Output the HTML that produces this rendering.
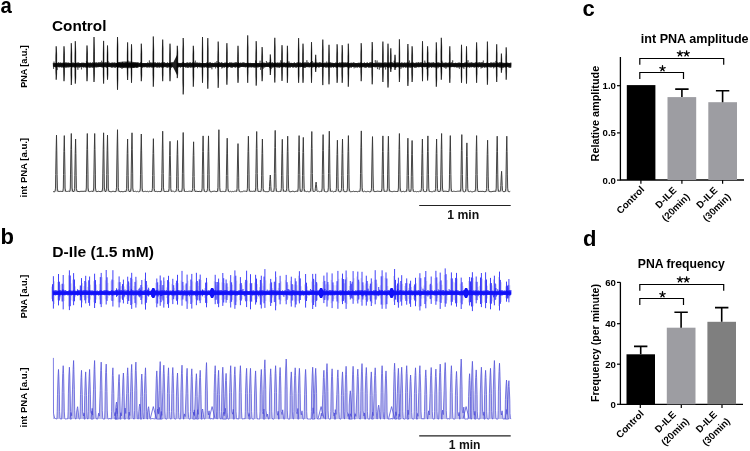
<!DOCTYPE html>
<html><head><meta charset="utf-8"><style>
html,body{margin:0;padding:0;background:#fff;}
body{width:750px;height:451px;overflow:hidden;font-family:"Liberation Sans",sans-serif;}
svg{display:block;will-change:transform;}
</style></head><body>
<svg width="750" height="451" viewBox="0 0 750 451">
<rect x="53.1" y="63.2" width="458.1" height="3.6" fill="#000"/>
<path d="M53.1 62.9 53.6 68.9 54 61.6 54.5 66.7 54.9 63.2 55.4 67.3 55.8 63.1 56.3 67.5 56.7 62.5 57.2 70.1 57.6 62.9 58.1 66.9 58.5 62.2 59 67.5 59.4 62.8 59.9 67.3 60.3 62.4 60.8 67.1 61.2 62.7 61.7 67.7 62.1 63 62.6 67.4 63 62.4 63.5 68 63.9 62.8 64.4 66.9 64.8 63.2 65.3 67.7 65.7 62.2 66.2 67.6 66.6 62.5 67.1 67.8 67.5 62.7 68 66.8 68.4 62.5 68.9 67.8 69.3 62.8 69.8 66.7 70.2 63.1 70.7 66.8 71.1 63.1 71.6 67.2 72 63.2 72.5 67.4 72.9 62.2 73.4 67.1 73.8 62.8 74.3 67.9 74.7 63.1 75.2 67 75.6 62.5 76.1 66.7 76.5 62.8 77 67.9 77.4 62.6 77.9 69.8 78.3 62.3 78.8 67.7 79.2 62.8 79.7 67.7 80.1 63 80.6 67.1 81 63.1 81.5 69.4 81.9 62.5 82.4 67 82.8 62.8 83.3 67.8 83.7 62.7 84.2 66.8 84.6 62.9 85.1 67.8 85.5 63.3 86 67.4 86.4 61.3 86.9 68 87.3 62.4 87.8 67.2 88.2 62.3 88.7 67.7 89.1 63 89.6 68 90 62.3 90.5 67.7 90.9 62.6 91.4 67.4 91.8 63 92.3 67.9 92.7 62.1 93.2 67.9 93.6 63 94.1 67 94.5 62.5 95 67.8 95.4 62.5 95.9 66.8 96.3 62.1 96.8 67.7 97.2 63.1 97.7 67.1 98.1 62 98.6 67.2 99 62.4 99.5 66.9 99.9 62.1 100.4 66.9 100.8 62 101.3 67.2 101.7 60.7 102.2 67.5 102.6 62.1 103.1 67.8 103.5 63 104 67.1 104.4 62.5 104.9 67.2 105.3 62.1 105.8 67.3 106.2 62.1 106.7 67.9 107.1 62.6 107.6 66.7 108 61.1 108.5 66.9 108.9 62.4 109.4 67.1 109.8 62.6 110.3 66.8 110.7 63 111.2 67.7 111.6 62.6 112.1 67.9 112.5 62.5 113 67.4 113.4 62.7 113.9 67.3 114.3 62.4 114.8 67.9 115.2 62.6 115.7 67.8 116.1 63.1 116.6 66.8 117 63.2 117.5 67.7 117.9 63.1 118.4 67.6 118.8 62.2 119.3 67 119.7 62.8 120.2 68 120.6 63.1 121.1 67.4 121.5 63 122 69 122.4 61.9 122.9 67.5 123.3 63.2 123.8 67.7 124.2 63.2 124.7 66.8 125.1 62.9 125.6 67.2 126 62.2 126.5 66.9 126.9 62.6 127.4 68.5 127.8 60.4 128.3 67.5 128.7 63.2 129.2 66.8 129.6 62.7 130.1 67.4 130.5 63 131 67.4 131.4 63.2 131.9 66.8 132.3 62.9 132.8 67.7 133.2 62.6 133.7 67.8 134.1 63.3 134.6 67.4 135 62.7 135.5 66.8 135.9 62.7 136.4 67.8 136.8 62.6 137.3 68 137.7 62.2 138.2 67.5 138.6 62.5 139.1 66.8 139.5 63 140 66.8 140.4 62.2 140.9 67.1 141.3 62.9 141.8 66.9 142.2 63 142.7 68 143.1 63 143.6 67.1 144 63.3 144.5 67.3 144.9 63 145.4 66.7 145.8 63.2 146.2 67.5 146.7 63 147.1 67.4 147.6 62.4 148 67.8 148.5 62.9 148.9 66.9 149.4 60.4 149.8 67.9 150.3 62.3 150.7 66.9 151.2 62.6 151.6 67.7 152.1 62.5 152.5 67.6 153 62.7 153.4 67.2 153.9 62.2 154.3 67.5 154.8 62.4 155.2 66.7 155.7 62.3 156.1 67.4 156.6 63.2 157 67.7 157.5 62.4 157.9 67.7 158.4 62.7 158.8 67.3 159.3 62.3 159.7 67.9 160.2 63 160.6 67.1 161.1 62.6 161.5 67.6 162 62.4 162.4 67.4 162.9 62.7 163.3 67.9 163.8 62 164.2 66.7 164.7 62.2 165.1 67.3 165.6 63 166 67 166.5 63.1 166.9 67.9 167.4 62.2 167.8 67.9 168.3 63 168.7 67.3 169.2 62.7 169.6 67.1 170.1 62.9 170.5 69.7 171 62.2 171.4 67.9 171.9 62.1 172.3 67.2 172.8 62 173.2 67.2 173.7 62.7 174.1 67.8 174.6 62.1 175 67 175.5 63.1 175.9 67.9 176.4 62.2 176.8 67.9 177.3 62.6 177.7 66.8 178.2 62.7 178.6 67.5 179.1 63.2 179.5 66.9 180 62.9 180.4 67.7 180.9 63 181.3 67.1 181.8 62.8 182.2 66.9 182.7 62.1 183.1 67 183.6 62 184 66.9 184.5 63.2 184.9 66.8 185.4 63 185.8 67.9 186.3 62.8 186.7 67.4 187.2 62.2 187.6 68 188.1 62.6 188.5 67.8 189 62.9 189.4 67.2 189.9 62.1 190.3 67.9 190.8 62.4 191.2 67.3 191.7 63.3 192.1 67.9 192.6 62.2 193 67 193.5 63.1 193.9 67.6 194.4 62.4 194.8 67.7 195.3 60.6 195.7 67 196.2 62.5 196.6 66.9 197.1 62.5 197.5 68.2 198 62.5 198.4 67 198.9 63.3 199.3 67.3 199.8 62.5 200.2 67.3 200.7 63 201.1 67.6 201.6 63.3 202 67.6 202.5 63 202.9 67.9 203.4 63.3 203.8 67.2 204.3 63 204.7 67.7 205.2 63 205.6 67.1 206.1 63 206.5 67.7 207 62.1 207.4 66.9 207.9 62.8 208.3 67.9 208.8 62.8 209.2 68 209.7 62.2 210.1 67.9 210.6 62.3 211 67.9 211.5 63.1 211.9 69.3 212.4 62.8 212.8 67.1 213.3 63.3 213.7 67.2 214.2 63.1 214.6 67 215.1 62.2 215.5 68.4 216 62.8 216.4 67 216.9 61.1 217.3 67.8 217.8 63.1 218.2 67.9 218.7 62.3 219.1 67.1 219.6 62.1 220 67 220.5 62.9 220.9 66.7 221.4 62.1 221.8 68.5 222.3 62.7 222.7 67.9 223.2 63 223.6 67.3 224.1 63.1 224.5 67.7 225 62.3 225.4 67.1 225.9 62.8 226.3 66.8 226.8 62.3 227.2 68.2 227.7 62.9 228.1 67.8 228.6 63 229 66.8 229.5 62.4 229.9 67 230.4 62.5 230.8 67.7 231.3 62.4 231.7 67.8 232.2 62.6 232.6 67.7 233.1 63 233.5 66.9 234 62.5 234.4 67.2 234.9 62.6 235.3 67.8 235.8 62 236.2 67.3 236.7 62.2 237.1 66.8 237.6 63.1 238 68 238.5 62.1 238.9 67.8 239.4 63 239.8 67.9 240.3 62.5 240.7 67 241.2 63.1 241.6 67 242.1 62.5 242.5 66.7 243 62.4 243.4 67.1 243.9 62.3 244.3 66.8 244.8 62.8 245.2 67.5 245.7 63.1 246.1 67.2 246.6 62.9 247 67.1 247.5 62.8 247.9 67.8 248.4 62.8 248.8 67.6 249.3 63.3 249.7 67.3 250.2 62.8 250.6 67.3 251.1 63.3 251.5 67.5 252 63.2 252.4 67.2 252.9 63.1 253.3 67.4 253.8 63.2 254.2 67.7 254.7 63 255.1 67.9 255.6 60.4 256 67.2 256.5 62.5 256.9 66.9 257.4 63 257.8 67.8 258.3 63.1 258.7 67.2 259.2 62.8 259.6 67 260.1 60.7 260.5 69.8 261 63.1 261.4 67.4 261.9 62.9 262.3 67.5 262.8 62.4 263.2 68.8 263.7 62.7 264.1 67.7 264.6 62.7 265 67.3 265.5 63.1 265.9 66.8 266.4 61 266.8 66.8 267.3 62.3 267.7 66.8 268.2 62.8 268.6 66.9 269.1 62 269.5 67.8 270 62 270.4 67.9 270.9 63.1 271.3 68.8 271.8 62.3 272.2 67.9 272.7 62.2 273.1 67.4 273.6 63 274 67.4 274.5 63.3 274.9 66.9 275.4 62.4 275.8 66.9 276.3 63.2 276.7 67.5 277.2 62.2 277.6 67.5 278.1 63.2 278.5 67.5 279 62.3 279.4 68 279.9 62.8 280.3 67.3 280.8 60.3 281.2 67 281.7 62 282.1 67.6 282.6 62.9 283 67.5 283.5 62.6 283.9 66.9 284.4 62.4 284.8 67.2 285.3 62.8 285.7 67.5 286.2 63 286.6 67.3 287.1 62.1 287.5 66.9 288 62.5 288.4 67.7 288.9 61.3 289.3 67.4 289.8 62.5 290.2 67.9 290.7 63 291.1 66.8 291.6 62.8 292 66.8 292.5 63.3 292.9 67.9 293.4 63 293.8 67.4 294.3 62.2 294.7 67.1 295.2 63.2 295.6 67.7 296.1 63.3 296.5 67.7 297 62.3 297.4 67 297.9 62.2 298.3 67.7 298.8 62.2 299.2 67 299.7 62.7 300.1 67.4 300.6 62.5 301 67 301.5 63.3 301.9 67 302.4 62.1 302.8 67.1 303.3 62.9 303.7 67.9 304.2 62.4 304.6 68 305.1 62.2 305.5 67.8 306 62.4 306.4 67.1 306.9 60.2 307.3 67.2 307.8 62.1 308.2 67 308.7 62.4 309.1 67.6 309.6 63.2 310 67.2 310.5 62.2 310.9 66.8 311.4 62.1 311.8 66.8 312.3 61 312.7 67.8 313.2 62.2 313.6 67.1 314.1 63.2 314.5 67 315 62.1 315.4 67.1 315.9 62.8 316.3 68 316.8 62.2 317.2 66.7 317.7 62.7 318.1 67.2 318.6 62.6 319 67.8 319.5 62.2 319.9 66.7 320.4 62.3 320.8 66.7 321.3 62.7 321.7 66.9 322.2 62.8 322.6 67 323.1 62.9 323.5 67.6 324 63.2 324.4 66.8 324.9 62.4 325.3 67.5 325.8 62.8 326.2 67.9 326.7 61.6 327.1 67 327.6 62.6 328 67.8 328.5 62.7 328.9 67.7 329.4 62.5 329.8 67.1 330.3 62.2 330.7 67.7 331.2 62.7 331.6 67.5 332.1 62.7 332.5 67 333 62.9 333.4 67.8 333.9 63.1 334.3 67.1 334.8 63.1 335.2 66.9 335.7 62.4 336.1 68 336.6 62.8 337 67.7 337.5 62.7 337.9 67.5 338.4 63 338.8 66.7 339.3 62.3 339.7 67.4 340.2 62.7 340.6 67.5 341.1 62.3 341.5 67.3 342 62.3 342.4 67 342.9 62.2 343.3 67.6 343.8 62.4 344.2 67.3 344.7 62.5 345.1 67.2 345.6 62.4 346 67 346.5 62.7 346.9 67.2 347.4 62.1 347.8 67.6 348.3 62.8 348.7 69.3 349.2 63.1 349.6 67.9 350.1 63.2 350.5 67.4 351 62.6 351.4 67.8 351.9 62.8 352.3 67 352.8 62.8 353.2 66.9 353.7 62.2 354.1 68.3 354.6 62.8 355 67.2 355.5 63 355.9 67.9 356.4 63 356.8 67.2 357.3 63.1 357.7 67.8 358.2 62.7 358.6 67 359.1 62.8 359.5 67.8 360 62.7 360.4 67.4 360.9 62.2 361.3 67.8 361.8 62.8 362.2 67.3 362.7 63.3 363.1 67.1 363.6 62.9 364 67.3 364.5 62.4 364.9 67.9 365.4 63.2 365.8 67.9 366.3 63.1 366.7 67.6 367.2 62.1 367.6 67 368.1 63.1 368.5 67.7 369 63.1 369.4 67.7 369.9 62.1 370.3 67.7 370.8 62.1 371.2 67.8 371.7 62.4 372.1 67.7 372.6 62.2 373 67 373.5 63.1 373.9 66.8 374.4 63.1 374.8 67.3 375.3 60.1 375.7 67.3 376.2 62.4 376.6 67.2 377.1 60.5 377.5 69.1 378 62.4 378.4 67.1 378.9 62.6 379.3 69.7 379.8 62.5 380.2 67.8 380.7 62.7 381.1 67.7 381.6 62.7 382 67.4 382.5 62.9 382.9 67.2 383.4 62.9 383.8 68 384.3 62.3 384.7 67.1 385.2 62.5 385.6 69.5 386.1 62.1 386.5 66.8 387 63.3 387.4 67.9 387.9 62.4 388.3 67.9 388.8 62.5 389.2 67.6 389.7 62.4 390.1 67.6 390.6 62.3 391 68.9 391.5 62.1 391.9 67.2 392.4 62.3 392.8 67 393.3 62.8 393.7 67.3 394.2 60.7 394.6 66.8 395.1 62.2 395.5 67.9 396 63.3 396.4 67.5 396.9 62 397.3 67.2 397.8 62.5 398.2 66.9 398.7 62.4 399.1 68 399.6 62.2 400 66.7 400.5 63 400.9 68.9 401.4 62.4 401.8 67.6 402.3 62.5 402.7 67.3 403.2 63 403.6 67.7 404.1 62.5 404.5 66.8 405 62.4 405.4 67.8 405.9 63.2 406.3 67.4 406.8 62.4 407.2 67.7 407.7 62.5 408.1 67.2 408.6 62.3 409 67.7 409.5 60.5 409.9 67.6 410.4 62.9 410.8 68 411.3 62.5 411.7 67.3 412.2 62.8 412.6 67.5 413.1 62.3 413.5 66.7 414 62.8 414.4 67.8 414.9 63.2 415.3 67.8 415.8 62.6 416.2 67.8 416.7 62.4 417.1 67.2 417.6 62.6 418 67 418.5 62.1 418.9 67.5 419.4 62.7 419.8 67 420.3 62.3 420.7 66.8 421.2 62.3 421.6 67.5 422.1 62.1 422.5 67.3 423 63.1 423.4 66.9 423.9 62.8 424.3 67.2 424.8 60.6 425.2 67.2 425.7 62.5 426.1 66.9 426.6 62.9 427 69.2 427.5 62.2 427.9 67.4 428.4 62.3 428.8 67.9 429.3 62.2 429.7 67.5 430.2 63.1 430.6 66.8 431.1 62.2 431.5 67.9 432 63.2 432.4 67.2 432.9 62.1 433.3 67.4 433.8 62.1 434.2 67.2 434.7 63.1 435.1 68 435.6 63.2 436 67.2 436.5 62.1 436.9 66.8 437.4 62.4 437.8 68.3 438.3 62.3 438.7 67.6 439.2 62.5 439.6 66.8 440.1 63 440.5 67.3 441 63 441.4 69.4 441.9 60.7 442.3 67 442.8 62.2 443.2 66.9 443.7 63.2 444.1 67.8 444.6 62.7 445 67.8 445.5 62.5 445.9 68.8 446.4 62.6 446.8 67.8 447.3 62.8 447.7 67.1 448.2 62.9 448.6 67.3 449.1 62.1 449.5 70.2 450 62.4 450.4 67.3 450.9 63 451.3 67.2 451.8 62 452.2 66.8 452.7 60.3 453.1 67.1 453.6 63.3 454 67.1 454.5 63.3 454.9 67.4 455.4 62.7 455.8 67 456.3 63.1 456.7 67.7 457.2 62.8 457.6 67.5 458.1 62.9 458.5 67.5 459 62.2 459.4 68.8 459.9 62.8 460.3 66.8 460.8 62.9 461.2 67.8 461.7 63.3 462.1 67.3 462.6 63 463 67.8 463.5 63.1 463.9 68.8 464.4 62.7 464.8 66.9 465.3 62.2 465.7 67.1 466.2 62.8 466.6 66.8 467.1 62.1 467.5 67.4 468 60.2 468.4 67 468.9 63.2 469.3 68 469.8 62.4 470.2 66.7 470.7 62.6 471.1 67.6 471.6 62.2 472 66.8 472.5 62.7 472.9 67.1 473.4 62.8 473.8 67.5 474.3 63.1 474.7 67.7 475.2 62.2 475.6 67.2 476.1 62.2 476.5 67.2 477 62.3 477.4 67 477.9 62.7 478.3 67.7 478.8 62.2 479.2 66.8 479.7 62.1 480.1 67 480.6 62.5 481 68.5 481.5 62.3 481.9 68 482.4 62.1 482.8 67.8 483.3 60.5 483.7 67 484.2 62.9 484.6 67.9 485.1 63 485.5 67.3 486 62.9 486.4 67.5 486.9 62.5 487.3 67.4 487.8 62.7 488.2 66.9 488.7 63.1 489.1 67.2 489.6 63 490 67.4 490.5 62.5 490.9 67.5 491.4 62.4 491.8 67.4 492.3 62.7 492.7 67 493.2 62.6 493.6 68.3 494.1 62.2 494.5 67.4 495 62.9 495.4 67.1 495.9 60.9 496.3 68.2 496.8 62.7 497.2 66.8 497.7 62.1 498.1 66.9 498.6 62.8 499 67.5 499.5 62.2 499.9 67.7 500.4 62.3 500.8 67.7 501.3 62.1 501.7 69.7 502.2 62.5 502.6 68 503.1 62.8 503.5 67.8 504 62.8 504.4 67.3 504.9 62.9 505.3 67.4 505.8 62.9 506.2 67.8 506.7 62.7 507.1 67.1 507.6 62.6 508 66.8 508.5 62.9 508.9 67.8 509.4 63 509.8 68 510.3 62.6 510.7 67.9 511.2 62.6" fill="none" stroke="#111" stroke-width="0.5"/>
<path d="M116 63L119 62L124 61.4L130 61.6L136 62.2L138 63V67L136 67.8L130 68.2L124 68L119 67.6L116 67Z" fill="#000" opacity="0.7"/>
<path d="M172.5 64L177 55V75L172.5 66Z" fill="#222"/>
<path d="M56.2 46.3V79.7M56.2 46.3L56.7 54.2V73.5L56.2 79.7L55.8 71.8V56.3ZM64 46.3V81.2M64 46.3L64.5 53.4V73.9L64 81.2L63.6 72.1V55.7ZM71.3 43.2V85M71.3 43.2L71.8 53.2V77L71.3 85L70.9 74.6V55.6ZM75.3 41.2V83.6M75.3 41.2L75.8 52.2V77.8L75.3 83.6L74.9 75.2V54.8ZM87 45.5V81.2M87 45.5L87.5 52.9V74.4L87 81.2L86.6 72.5V55.3ZM94 37V82M94 37L94.5 51.7V74.2L94 82L93.6 72.4V54.4ZM103.6 40.9V83.6M103.6 40.9L104 51.7V76L103.6 83.6L103.2 73.8V54.4ZM107.5 45.5V79.7M107.5 45.5L108 53.4V74.8L107.5 79.7L107.1 72.9V55.7ZM117.5 37V89.8M117.5 37L118 45.6V79.2L117.5 89.8L117.1 76.3V49.5ZM127.6 42.4V80M127.6 42.4L128 52.3V74.1L127.6 80L127.2 72.3V54.9ZM131.5 44.3V82.8M131.5 44.3L131.9 50.5V74.5L131.5 82.8L131.1 72.6V53.4ZM141.3 43.7V81.2M141.3 43.7L141.8 52.6V75.6L141.3 81.2L140.9 73.5V55.1ZM153.3 36.5V86.7M153.3 36.5L153.8 51V76.5L153.3 86.7L152.9 74.2V53.8ZM162.7 39.6V81.2M162.7 39.6L163.1 47.4V75.6L162.7 81.2L162.3 73.5V50.9ZM170 43.7V81.2M170 43.7L170.4 52.7V72.7L170 81.2L169.6 71.2V55.1ZM177.3 45.8V78.1M177.3 45.8L177.8 52.1V73.2L177.3 78.1L176.9 71.5V54.7ZM183.2 38V94.4M183.2 38L183.6 47.3V85.5L183.2 94.4L182.8 81.4V50.8ZM193.3 45.8V86.7M193.3 45.8L193.8 52.1V77L193.3 86.7L192.9 74.6V54.7ZM202.5 37V82.8M202.5 37L202.9 51.3V74.3L202.5 82.8L202.1 72.4V54ZM207.8 38.1V88.7M207.8 38.1L208.2 49.5V78.7L207.8 88.7L207.4 75.9V52.6ZM218.2 41.6V87.8M218.2 41.6L218.6 53.4V76.3L218.2 87.8L217.8 74V55.7ZM226.9 43.2V84.7M226.9 43.2L227.3 51.8V76.8L226.9 84.7L226.5 74.5V54.4ZM238 45.8V82.8M238 45.8L238.4 54.7V77.4L238 82.8L237.6 74.9V56.7ZM247.7 35.4V82.8M247.7 35.4L248.1 47V73.2L247.7 82.8L247.3 71.6V50.6ZM256.2 41.2V85.6M256.2 41.2L256.6 51.8V78.3L256.2 85.6L255.8 75.7V54.5ZM262.1 47.1V81.2M262.1 47.1L262.6 55.6V75.1L262.1 81.2L261.7 73.1V57.5ZM270.3 54.5V75M270.3 54.5L270.8 60.3V70.3L270.3 75L269.9 69.2V61.2ZM274.8 37.8V82.5M274.8 37.8L275.2 47V75.4L274.8 82.5L274.4 73.4V50.6ZM282 45.2V80.9M282 45.2L282.4 52.8V72.9L282 80.9L281.6 71.3V55.2ZM287.4 45.8V82.8M287.4 45.8L287.8 54V75.5L287.4 82.8L287 73.4V56.2ZM298.6 38.1V82.8M298.6 38.1L299.1 51.1V75.9L298.6 82.8L298.2 73.7V53.9ZM303 43.7V82.8M303 43.7L303.4 52.6V77.4L303 82.8L302.6 75V55.1ZM311.5 42.1V82.8M311.5 42.1L311.9 51.4V74.8L311.5 82.8L311.1 72.9V54.1ZM315.7 54.8V71.9M315.7 54.8L316.1 60.1V68.4L315.7 71.9L315.3 67.7V61.1ZM322.8 39.6V85.1M322.8 39.6L323.2 48.7V74.6L322.8 85.1L322.4 72.7V52ZM329 44.8V84.3M329 44.8L329.4 55.4V74.5L329 84.3L328.6 72.6V57.3ZM337.1 44.3V82.8M337.1 44.3L337.6 53V76.7L337.1 82.8L336.7 74.3V55.4ZM342.2 45.2V82.8M342.2 45.2L342.6 53.1V76.6L342.2 82.8L341.8 74.3V55.4ZM348.3 43.7V86.7M348.3 43.7L348.8 55.1V74.8L348.3 86.7L347.9 72.9V57.1ZM361.2 43.2V81.2M361.2 43.2L361.6 51V73.6L361.2 81.2L360.8 71.9V53.8ZM372.2 42.1V84.3M372.2 42.1L372.6 50.6V75.4L372.2 84.3L371.8 73.3V53.5ZM382.9 41.6V82M382.9 41.6L383.3 53.5V73.8L382.9 82L382.5 72V55.8ZM388 43.7V87.5M388 43.7L388.4 54.9V80.2L388 87.5L387.6 77.2V56.9ZM390.8 48.3V71.9M390.8 48.3L391.2 55.1V68.7L390.8 71.9L390.4 68V57ZM395 54.8V70M395 54.8L395.4 59.3V67.7L395 70L394.6 67.2V60.4ZM399.4 39.3V82M399.4 39.3L399.8 53.1V76.4L399.4 82L399 74.1V55.5ZM407.9 44V85.9M407.9 44L408.3 52.5V79.4L407.9 85.9L407.5 76.5V55ZM412.1 46.3V82M412.1 46.3L412.6 54.5V75.3L412.1 82L411.7 73.2V56.6ZM422.5 41.2V81.2M422.5 41.2L422.9 52.8V72.5L422.5 81.2L422.1 71V55.2ZM427.6 46.3V80.5M427.6 46.3L428.1 52.2V75.3L427.6 80.5L427.2 73.2V54.8ZM436.3 42.4V86.7M436.3 42.4L436.8 53.1V79.6L436.3 86.7L435.9 76.7V55.4ZM441.3 37.8V79.7M441.3 37.8L441.8 47.2V72.7L441.3 79.7L440.9 71.2V50.8ZM449.8 46.3V82.8M449.8 46.3L450.2 53.8V77.3L449.8 82.8L449.4 74.8V56ZM461.5 44.8V82.8M461.5 44.8L461.9 53.4V77.2L461.5 82.8L461.1 74.8V55.7ZM466.5 46.3V83.6M466.5 46.3L466.9 55.4V75.2L466.5 83.6L466.1 73.1V57.4ZM476.6 42.4V82.8M476.6 42.4L477.1 50.8V74L476.6 82.8L476.2 72.2V53.6ZM487.4 41.6V84.7M487.4 41.6L487.8 52.7V78.2L487.4 84.7L487 75.5V55.1ZM496.7 44.3V82M496.7 44.3L497.1 53.2V76L496.7 82L496.3 73.8V55.5ZM501.4 53.6V72.7M501.4 53.6L501.8 59.2V68.8L501.4 72.7L501 68V60.3ZM506.2 47.4V79.7M506.2 47.4L506.6 55.5V72.3L506.2 79.7L505.8 70.8V57.4Z" stroke="#000" stroke-width="0.45" fill="#000" stroke-linejoin="miter"/>
<path d="M53.1 191.5 54.1 191.9 55 191.5 55.5 188.1 55.7 174.6 56.1 150.9 56.5 135.1 56.8 150.9 57.1 174.6 57.4 188.1 57.9 191.5 58.9 191.3 59.9 191.5 60.9 191.2 61.9 191.5 62.8 191.5 63.3 188.1 63.5 174.7 63.9 151.3 64.3 135.6 64.6 151.3 65 174.7 65.1 188.1 65.7 191.5 66.7 191.4 67.7 191.4 68.7 191.2 69.8 191.5 70.3 188 70.5 174.1 70.9 149.7 71.3 133.5 71.6 149.7 72 174.1 72.1 188 72.7 191.5 74.1 191.5 74.6 188.3 74.8 175.8 75.2 153.7 75.6 139 75.9 153.7 76.2 175.8 76.4 188.3 77 191.5 78 191.2 79 191.8 80 191.4 81 191.3 82 191.3 83 191.3 84 191.3 85 191.1 85.8 191.5 86.3 188 86.5 174.1 86.9 149.7 87.3 133.5 87.6 149.7 88 174.1 88.1 188 88.7 191.5 89.7 191.6 90.7 191.4 91.7 191.2 93.2 191.5 93.7 188 93.9 174.1 94.3 149.7 94.7 133.5 95 149.7 95.4 174.1 95.5 188 96.1 191.5 97.1 191.7 98.1 191.2 99.1 191.3 100.1 191.8 101.1 191.2 102.1 191.5 102.6 188 102.8 173.9 103.2 149.2 103.6 132.8 103.9 149.2 104.2 173.9 104.4 188 105 191.5 106 191.5 106.5 188.1 106.7 174.6 107.1 150.9 107.5 135.1 107.8 150.9 108.2 174.6 108.3 188.1 108.9 191.5 109.9 191.5 110.9 191.8 111.9 191.7 112.9 191.2 113.9 191.4 114.9 191.7 116 191.5 116.5 187.8 116.7 173 117.1 147 117.5 129.7 117.8 147 118.2 173 118.3 187.8 118.9 191.5 119.9 191.4 120.9 191.9 121.9 191.3 122.9 191.9 123.9 191.5 124.9 191.3 126.1 191.5 126.6 188.3 126.8 175.8 127.2 153.7 127.6 139 127.9 153.7 128.2 175.8 128.4 188.3 129 191.5 130.5 191.5 131 188 131.2 173.9 131.6 149.2 132 132.8 132.3 149.2 132.7 173.9 132.8 188 133.4 191.5 134.4 191.5 135.4 191.2 136.4 191.7 137.4 191.3 138.4 191.8 139.8 191.5 140.3 188.1 140.5 174.2 140.9 150.1 141.3 134 141.6 150.1 142 174.2 142.2 188.1 142.7 191.5 143.7 191.6 144.7 191.4 145.7 191.3 146.7 191.6 147.7 191.3 148.7 191.8 149.7 191.2 150.7 191.5 151.9 191.5 152.4 188.3 152.6 175.7 153 153.5 153.4 138.7 153.7 153.5 154.1 175.7 154.2 188.3 154.8 191.5 155.8 191.5 156.8 191.3 157.8 191.7 158.8 191.4 159.8 191.6 161.2 191.5 161.7 187.9 161.9 173.4 162.3 148.1 162.7 131.2 163 148.1 163.3 173.4 163.5 187.9 164.1 191.5 165.1 191.6 166.1 191.3 167.1 191.4 168.5 191.5 169 188.5 169.2 176.4 169.6 155.4 170 141.3 170.3 155.4 170.7 176.4 170.8 188.5 171.4 191.5 172.4 191.2 173.4 191.2 174.4 191.8 175.4 191.4 176 191.5 176.5 188.4 176.7 176.2 177.1 154.8 177.5 140.5 177.8 154.8 178.2 176.2 178.3 188.4 178.9 191.5 179.9 191.6 180.9 191.2 181.7 191.5 182.2 188 182.4 173.8 182.8 149 183.2 132.5 183.5 149 183.8 173.8 184 188 184.6 191.5 185.6 191.5 186.6 191.4 187.6 191.5 188.6 191.3 189.6 191.2 190.6 191.3 192.1 191.5 192.6 188.5 192.8 176.6 193.2 155.7 193.6 141.8 193.9 155.7 194.2 176.6 194.4 188.5 195 191.5 196 191.3 197 191.2 198 191.7 199 191.3 200 191.4 201 191.8 201.6 191.5 202.1 188.2 202.3 174.8 202.7 151.5 203.1 135.9 203.4 151.5 203.8 174.8 203.9 188.2 204.5 191.5 205.5 191.7 207 191.5 207.5 188.2 207.7 174.8 208.1 151.5 208.5 135.9 208.8 151.5 209.2 174.8 209.3 188.2 209.9 191.5 210.9 191.8 211.9 191.8 212.9 191.2 213.9 191.3 214.9 191.1 215.9 191.6 217.4 191.5 217.9 187.8 218.1 173 218.5 147 218.9 129.7 219.2 147 219.6 173 219.8 187.8 220.3 191.5 221.3 191.6 222.3 191.4 223.3 191.4 224.3 191.6 225.7 191.5 226.2 188.3 226.4 175.5 226.8 153.1 227.2 138.2 227.5 153.1 227.8 175.5 228 188.3 228.6 191.5 229.6 191.7 230.6 191.3 231.6 191.8 232.6 191.4 233.6 191.6 234.6 191.2 235.6 191.2 236.5 191.5 237 188.6 237.2 177.1 237.6 157 238 143.6 238.3 157 238.7 177.1 238.8 188.6 239.4 191.5 240.4 191.8 241.4 191.7 242.4 191.7 243.4 191.1 244.4 191.1 245.4 191.2 246.9 191.5 247.4 188.2 247.6 174.9 248 151.7 248.4 136.2 248.7 151.7 249.1 174.9 249.2 188.2 249.8 191.5 250.8 191.3 251.8 191.3 252.8 191.4 253.8 191.1 255.2 191.5 255.7 187.9 255.9 173.5 256.3 148.3 256.7 131.5 257 148.3 257.3 173.5 257.6 187.9 258.1 191.5 259.1 191.3 260.1 191.6 260.9 191.5 261.4 188.3 261.6 175.8 262 153.7 262.4 139 262.7 153.7 263 175.8 263.2 188.3 263.8 191.5 264.8 191.2 265.8 191.8 266.8 191.6 267.8 191.7 268.8 191.5 269.3 190.5 269.5 186.6 269.9 179.6 270.3 175 270.6 179.6 270.9 186.6 271.2 190.5 271.7 191.5 272.7 191.3 273.7 191.5 274.2 187.8 274.4 173.2 274.8 147.5 275.2 130.4 275.5 147.5 275.8 173.2 276.1 187.8 276.6 191.5 277.6 191.4 278.6 191.6 279.6 191.4 280.8 191.5 281.3 188.4 281.5 175.8 281.9 153.9 282.3 139.3 282.6 153.9 282.9 175.8 283.2 188.4 283.7 191.5 284.7 191.1 286.2 191.5 286.7 188.2 286.9 174.9 287.3 151.7 287.7 136.2 288 151.7 288.3 174.9 288.6 188.2 289.1 191.5 290.1 191.8 291.1 191.7 292.1 191.3 293.1 191.1 294.1 191.8 295.1 191.6 296.1 191.1 297.1 191.3 297.6 191.5 298.1 188.1 298.3 174.7 298.7 151.3 299.1 135.6 299.4 151.3 299.8 174.7 300 188.1 300.5 191.5 301.8 191.5 302.3 188.3 302.5 175.3 302.9 152.5 303.3 137.4 303.6 152.5 303.9 175.3 304.2 188.3 304.7 191.5 305.7 191.2 306.7 191.7 307.7 191.3 308.7 191.8 309.7 191.7 310.3 191.5 310.8 187.9 311 173.5 311.4 148.3 311.8 131.5 312.1 148.3 312.4 173.5 312.7 187.9 313.2 191.5 314.6 191.5 315.1 190.9 315.3 188.7 315.7 184.7 316.1 182.1 316.4 184.7 316.8 188.7 317 190.9 317.5 191.5 318.5 191.2 319.5 191.7 320.5 191.4 321.6 191.5 322.1 188.1 322.3 174.4 322.7 150.5 323.1 134.6 323.4 150.5 323.8 174.4 324 188.1 324.5 191.5 325.5 191.7 326.5 191.8 327.8 191.5 328.3 187.9 328.5 173.4 328.9 148.1 329.3 131.2 329.6 148.1 329.9 173.4 330.2 187.9 330.7 191.5 331.7 191.3 332.7 191.2 333.7 191.9 334.7 191.4 335.9 191.5 336.4 188.4 336.6 176.1 337 154.6 337.4 140.2 337.7 154.6 338 176.1 338.2 188.4 338.8 191.5 339.8 191.8 341 191.5 341.5 188.3 341.7 175.8 342.1 153.7 342.5 139 342.8 153.7 343.1 175.8 343.4 188.3 343.9 191.5 344.9 191.7 345.9 191.7 346.9 191.5 347.4 188.1 347.6 174.7 348 151.3 348.4 135.6 348.7 151.3 349 174.7 349.2 188.1 349.8 191.5 350.8 191.8 351.8 191.6 352.8 191.5 353.8 191.1 354.8 191.7 355.8 191.4 356.8 191.5 357.8 191.8 358.8 191.2 359.8 191.5 360.3 187.9 360.5 173.3 360.9 147.9 361.3 130.9 361.6 147.9 361.9 173.3 362.2 187.9 362.7 191.5 363.7 191.7 364.7 191.1 365.7 191.7 366.7 191.7 367.7 191.3 368.7 191.5 369.7 191.9 371 191.5 371.5 188.2 371.7 175 372.1 152 372.5 136.6 372.8 152 373.1 175 373.4 188.2 373.9 191.5 374.9 191.6 375.9 191.5 376.9 191.3 377.9 191.1 378.9 191.4 379.9 191.4 381.4 191.5 381.9 188.2 382.1 174.8 382.5 151.5 382.9 135.9 383.2 151.5 383.5 174.8 383.8 188.2 384.3 191.5 385.3 191.3 386.3 191.3 386.9 191.5 387.4 188.2 387.6 174.9 388 151.7 388.4 136.2 388.7 151.7 389 174.9 389.2 188.2 389.8 191.5 390.8 191.2 391.8 191.7 392.8 191.6 393.8 191.3 394.8 191.3 395.8 191.5 396.8 191.5 397.9 191.5 398.4 188 398.6 174.1 399 149.7 399.4 133.5 399.7 149.7 400 174.1 400.2 188 400.8 191.5 401.8 191.8 402.8 191.4 403.8 191.3 404.8 191.8 405.8 191.2 406.4 191.5 406.9 188.3 407.1 175.5 407.5 153.1 407.9 138.2 408.2 153.1 408.5 175.5 408.8 188.3 409.3 191.5 410.6 191.5 411.1 188.4 411.3 176.2 411.7 154.8 412.1 140.5 412.4 154.8 412.8 176.2 413 188.4 413.5 191.5 414.5 191.6 415.5 191.4 416.5 191.8 417.5 191.5 418.5 191.7 419.5 191.2 420.9 191.5 421.4 188.3 421.6 175.8 422 153.7 422.4 139 422.7 153.7 423 175.8 423.2 188.3 423.8 191.5 424.8 191.6 425.8 191.6 426.4 191.5 426.9 188.2 427.1 174.8 427.5 151.5 427.9 135.9 428.2 151.5 428.5 174.8 428.8 188.2 429.3 191.5 430.3 191.5 431.3 191.7 432.3 191.8 433.3 191.2 434.3 191.3 435.1 191.5 435.6 188.3 435.8 175.8 436.2 153.7 436.6 139 436.9 153.7 437.2 175.8 437.5 188.3 438 191.5 439 191.4 440.1 191.5 440.6 188 440.8 174.1 441.2 149.7 441.6 133.5 441.9 149.7 442.2 174.1 442.5 188 443 191.5 444 191.3 445 191.1 446 191.3 447 191.3 448 191.7 448.8 191.5 449.3 188.1 449.5 174.7 449.9 151.3 450.3 135.6 450.6 151.3 450.9 174.7 451.2 188.1 451.7 191.5 452.7 191.5 453.7 191.2 454.7 191.4 455.7 191.5 456.7 191.4 457.7 191.2 458.7 191.2 459.7 191.1 460.3 191.5 460.8 188.1 461 174.4 461.4 150.5 461.8 134.6 462.1 150.5 462.4 174.4 462.7 188.1 463.2 191.5 464.2 191.9 465.4 191.5 465.9 188.6 466.1 176.9 466.5 156.5 466.9 142.9 467.2 156.5 467.5 176.9 467.8 188.6 468.3 191.5 469.3 191.7 470.3 191.2 471.3 191.7 472.3 191.9 473.3 191.6 474.3 191.2 475.1 191.5 475.6 188.1 475.8 174.7 476.2 151.3 476.6 135.6 476.9 151.3 477.2 174.7 477.5 188.1 478 191.5 479 191.5 480 191.4 481 191.3 482 191.5 483 191.1 484 191.8 485 191.6 486.1 191.5 486.6 188.4 486.8 176.1 487.2 154.6 487.6 140.2 487.9 154.6 488.2 176.1 488.5 188.4 489 191.5 490 191.6 491 191.8 492 191.6 493 191.3 494 191.3 495 191.2 495.7 191.5 496.2 188.2 496.4 174.9 496.8 151.7 497.2 136.2 497.5 151.7 497.8 174.9 498.1 188.2 498.6 191.5 499.6 191.1 500.1 191.5 500.6 190.3 500.8 185.4 501.2 177 501.6 171.3 501.9 177 502.2 185.4 502.5 190.3 503 191.5 504 191.7 505.3 191.5 505.8 188.2 506 174.9 506.4 151.7 506.8 136.2 507.1 151.7 507.4 174.9 507.7 188.2 508.2 191.5 509.2 191.8 510.2 191.3L511.2 191.5Z" fill="#c8c8c8" stroke="none"/>
<path d="M53.1 191.5 54.1 191.9 55 191.5 55.5 188.1 55.7 174.6 56.1 150.9 56.5 135.1 56.8 150.9 57.1 174.6 57.4 188.1 57.9 191.5 58.9 191.3 59.9 191.5 60.9 191.2 61.9 191.5 62.8 191.5 63.3 188.1 63.5 174.7 63.9 151.3 64.3 135.6 64.6 151.3 65 174.7 65.1 188.1 65.7 191.5 66.7 191.4 67.7 191.4 68.7 191.2 69.8 191.5 70.3 188 70.5 174.1 70.9 149.7 71.3 133.5 71.6 149.7 72 174.1 72.1 188 72.7 191.5 74.1 191.5 74.6 188.3 74.8 175.8 75.2 153.7 75.6 139 75.9 153.7 76.2 175.8 76.4 188.3 77 191.5 78 191.2 79 191.8 80 191.4 81 191.3 82 191.3 83 191.3 84 191.3 85 191.1 85.8 191.5 86.3 188 86.5 174.1 86.9 149.7 87.3 133.5 87.6 149.7 88 174.1 88.1 188 88.7 191.5 89.7 191.6 90.7 191.4 91.7 191.2 93.2 191.5 93.7 188 93.9 174.1 94.3 149.7 94.7 133.5 95 149.7 95.4 174.1 95.5 188 96.1 191.5 97.1 191.7 98.1 191.2 99.1 191.3 100.1 191.8 101.1 191.2 102.1 191.5 102.6 188 102.8 173.9 103.2 149.2 103.6 132.8 103.9 149.2 104.2 173.9 104.4 188 105 191.5 106 191.5 106.5 188.1 106.7 174.6 107.1 150.9 107.5 135.1 107.8 150.9 108.2 174.6 108.3 188.1 108.9 191.5 109.9 191.5 110.9 191.8 111.9 191.7 112.9 191.2 113.9 191.4 114.9 191.7 116 191.5 116.5 187.8 116.7 173 117.1 147 117.5 129.7 117.8 147 118.2 173 118.3 187.8 118.9 191.5 119.9 191.4 120.9 191.9 121.9 191.3 122.9 191.9 123.9 191.5 124.9 191.3 126.1 191.5 126.6 188.3 126.8 175.8 127.2 153.7 127.6 139 127.9 153.7 128.2 175.8 128.4 188.3 129 191.5 130.5 191.5 131 188 131.2 173.9 131.6 149.2 132 132.8 132.3 149.2 132.7 173.9 132.8 188 133.4 191.5 134.4 191.5 135.4 191.2 136.4 191.7 137.4 191.3 138.4 191.8 139.8 191.5 140.3 188.1 140.5 174.2 140.9 150.1 141.3 134 141.6 150.1 142 174.2 142.2 188.1 142.7 191.5 143.7 191.6 144.7 191.4 145.7 191.3 146.7 191.6 147.7 191.3 148.7 191.8 149.7 191.2 150.7 191.5 151.9 191.5 152.4 188.3 152.6 175.7 153 153.5 153.4 138.7 153.7 153.5 154.1 175.7 154.2 188.3 154.8 191.5 155.8 191.5 156.8 191.3 157.8 191.7 158.8 191.4 159.8 191.6 161.2 191.5 161.7 187.9 161.9 173.4 162.3 148.1 162.7 131.2 163 148.1 163.3 173.4 163.5 187.9 164.1 191.5 165.1 191.6 166.1 191.3 167.1 191.4 168.5 191.5 169 188.5 169.2 176.4 169.6 155.4 170 141.3 170.3 155.4 170.7 176.4 170.8 188.5 171.4 191.5 172.4 191.2 173.4 191.2 174.4 191.8 175.4 191.4 176 191.5 176.5 188.4 176.7 176.2 177.1 154.8 177.5 140.5 177.8 154.8 178.2 176.2 178.3 188.4 178.9 191.5 179.9 191.6 180.9 191.2 181.7 191.5 182.2 188 182.4 173.8 182.8 149 183.2 132.5 183.5 149 183.8 173.8 184 188 184.6 191.5 185.6 191.5 186.6 191.4 187.6 191.5 188.6 191.3 189.6 191.2 190.6 191.3 192.1 191.5 192.6 188.5 192.8 176.6 193.2 155.7 193.6 141.8 193.9 155.7 194.2 176.6 194.4 188.5 195 191.5 196 191.3 197 191.2 198 191.7 199 191.3 200 191.4 201 191.8 201.6 191.5 202.1 188.2 202.3 174.8 202.7 151.5 203.1 135.9 203.4 151.5 203.8 174.8 203.9 188.2 204.5 191.5 205.5 191.7 207 191.5 207.5 188.2 207.7 174.8 208.1 151.5 208.5 135.9 208.8 151.5 209.2 174.8 209.3 188.2 209.9 191.5 210.9 191.8 211.9 191.8 212.9 191.2 213.9 191.3 214.9 191.1 215.9 191.6 217.4 191.5 217.9 187.8 218.1 173 218.5 147 218.9 129.7 219.2 147 219.6 173 219.8 187.8 220.3 191.5 221.3 191.6 222.3 191.4 223.3 191.4 224.3 191.6 225.7 191.5 226.2 188.3 226.4 175.5 226.8 153.1 227.2 138.2 227.5 153.1 227.8 175.5 228 188.3 228.6 191.5 229.6 191.7 230.6 191.3 231.6 191.8 232.6 191.4 233.6 191.6 234.6 191.2 235.6 191.2 236.5 191.5 237 188.6 237.2 177.1 237.6 157 238 143.6 238.3 157 238.7 177.1 238.8 188.6 239.4 191.5 240.4 191.8 241.4 191.7 242.4 191.7 243.4 191.1 244.4 191.1 245.4 191.2 246.9 191.5 247.4 188.2 247.6 174.9 248 151.7 248.4 136.2 248.7 151.7 249.1 174.9 249.2 188.2 249.8 191.5 250.8 191.3 251.8 191.3 252.8 191.4 253.8 191.1 255.2 191.5 255.7 187.9 255.9 173.5 256.3 148.3 256.7 131.5 257 148.3 257.3 173.5 257.6 187.9 258.1 191.5 259.1 191.3 260.1 191.6 260.9 191.5 261.4 188.3 261.6 175.8 262 153.7 262.4 139 262.7 153.7 263 175.8 263.2 188.3 263.8 191.5 264.8 191.2 265.8 191.8 266.8 191.6 267.8 191.7 268.8 191.5 269.3 190.5 269.5 186.6 269.9 179.6 270.3 175 270.6 179.6 270.9 186.6 271.2 190.5 271.7 191.5 272.7 191.3 273.7 191.5 274.2 187.8 274.4 173.2 274.8 147.5 275.2 130.4 275.5 147.5 275.8 173.2 276.1 187.8 276.6 191.5 277.6 191.4 278.6 191.6 279.6 191.4 280.8 191.5 281.3 188.4 281.5 175.8 281.9 153.9 282.3 139.3 282.6 153.9 282.9 175.8 283.2 188.4 283.7 191.5 284.7 191.1 286.2 191.5 286.7 188.2 286.9 174.9 287.3 151.7 287.7 136.2 288 151.7 288.3 174.9 288.6 188.2 289.1 191.5 290.1 191.8 291.1 191.7 292.1 191.3 293.1 191.1 294.1 191.8 295.1 191.6 296.1 191.1 297.1 191.3 297.6 191.5 298.1 188.1 298.3 174.7 298.7 151.3 299.1 135.6 299.4 151.3 299.8 174.7 300 188.1 300.5 191.5 301.8 191.5 302.3 188.3 302.5 175.3 302.9 152.5 303.3 137.4 303.6 152.5 303.9 175.3 304.2 188.3 304.7 191.5 305.7 191.2 306.7 191.7 307.7 191.3 308.7 191.8 309.7 191.7 310.3 191.5 310.8 187.9 311 173.5 311.4 148.3 311.8 131.5 312.1 148.3 312.4 173.5 312.7 187.9 313.2 191.5 314.6 191.5 315.1 190.9 315.3 188.7 315.7 184.7 316.1 182.1 316.4 184.7 316.8 188.7 317 190.9 317.5 191.5 318.5 191.2 319.5 191.7 320.5 191.4 321.6 191.5 322.1 188.1 322.3 174.4 322.7 150.5 323.1 134.6 323.4 150.5 323.8 174.4 324 188.1 324.5 191.5 325.5 191.7 326.5 191.8 327.8 191.5 328.3 187.9 328.5 173.4 328.9 148.1 329.3 131.2 329.6 148.1 329.9 173.4 330.2 187.9 330.7 191.5 331.7 191.3 332.7 191.2 333.7 191.9 334.7 191.4 335.9 191.5 336.4 188.4 336.6 176.1 337 154.6 337.4 140.2 337.7 154.6 338 176.1 338.2 188.4 338.8 191.5 339.8 191.8 341 191.5 341.5 188.3 341.7 175.8 342.1 153.7 342.5 139 342.8 153.7 343.1 175.8 343.4 188.3 343.9 191.5 344.9 191.7 345.9 191.7 346.9 191.5 347.4 188.1 347.6 174.7 348 151.3 348.4 135.6 348.7 151.3 349 174.7 349.2 188.1 349.8 191.5 350.8 191.8 351.8 191.6 352.8 191.5 353.8 191.1 354.8 191.7 355.8 191.4 356.8 191.5 357.8 191.8 358.8 191.2 359.8 191.5 360.3 187.9 360.5 173.3 360.9 147.9 361.3 130.9 361.6 147.9 361.9 173.3 362.2 187.9 362.7 191.5 363.7 191.7 364.7 191.1 365.7 191.7 366.7 191.7 367.7 191.3 368.7 191.5 369.7 191.9 371 191.5 371.5 188.2 371.7 175 372.1 152 372.5 136.6 372.8 152 373.1 175 373.4 188.2 373.9 191.5 374.9 191.6 375.9 191.5 376.9 191.3 377.9 191.1 378.9 191.4 379.9 191.4 381.4 191.5 381.9 188.2 382.1 174.8 382.5 151.5 382.9 135.9 383.2 151.5 383.5 174.8 383.8 188.2 384.3 191.5 385.3 191.3 386.3 191.3 386.9 191.5 387.4 188.2 387.6 174.9 388 151.7 388.4 136.2 388.7 151.7 389 174.9 389.2 188.2 389.8 191.5 390.8 191.2 391.8 191.7 392.8 191.6 393.8 191.3 394.8 191.3 395.8 191.5 396.8 191.5 397.9 191.5 398.4 188 398.6 174.1 399 149.7 399.4 133.5 399.7 149.7 400 174.1 400.2 188 400.8 191.5 401.8 191.8 402.8 191.4 403.8 191.3 404.8 191.8 405.8 191.2 406.4 191.5 406.9 188.3 407.1 175.5 407.5 153.1 407.9 138.2 408.2 153.1 408.5 175.5 408.8 188.3 409.3 191.5 410.6 191.5 411.1 188.4 411.3 176.2 411.7 154.8 412.1 140.5 412.4 154.8 412.8 176.2 413 188.4 413.5 191.5 414.5 191.6 415.5 191.4 416.5 191.8 417.5 191.5 418.5 191.7 419.5 191.2 420.9 191.5 421.4 188.3 421.6 175.8 422 153.7 422.4 139 422.7 153.7 423 175.8 423.2 188.3 423.8 191.5 424.8 191.6 425.8 191.6 426.4 191.5 426.9 188.2 427.1 174.8 427.5 151.5 427.9 135.9 428.2 151.5 428.5 174.8 428.8 188.2 429.3 191.5 430.3 191.5 431.3 191.7 432.3 191.8 433.3 191.2 434.3 191.3 435.1 191.5 435.6 188.3 435.8 175.8 436.2 153.7 436.6 139 436.9 153.7 437.2 175.8 437.5 188.3 438 191.5 439 191.4 440.1 191.5 440.6 188 440.8 174.1 441.2 149.7 441.6 133.5 441.9 149.7 442.2 174.1 442.5 188 443 191.5 444 191.3 445 191.1 446 191.3 447 191.3 448 191.7 448.8 191.5 449.3 188.1 449.5 174.7 449.9 151.3 450.3 135.6 450.6 151.3 450.9 174.7 451.2 188.1 451.7 191.5 452.7 191.5 453.7 191.2 454.7 191.4 455.7 191.5 456.7 191.4 457.7 191.2 458.7 191.2 459.7 191.1 460.3 191.5 460.8 188.1 461 174.4 461.4 150.5 461.8 134.6 462.1 150.5 462.4 174.4 462.7 188.1 463.2 191.5 464.2 191.9 465.4 191.5 465.9 188.6 466.1 176.9 466.5 156.5 466.9 142.9 467.2 156.5 467.5 176.9 467.8 188.6 468.3 191.5 469.3 191.7 470.3 191.2 471.3 191.7 472.3 191.9 473.3 191.6 474.3 191.2 475.1 191.5 475.6 188.1 475.8 174.7 476.2 151.3 476.6 135.6 476.9 151.3 477.2 174.7 477.5 188.1 478 191.5 479 191.5 480 191.4 481 191.3 482 191.5 483 191.1 484 191.8 485 191.6 486.1 191.5 486.6 188.4 486.8 176.1 487.2 154.6 487.6 140.2 487.9 154.6 488.2 176.1 488.5 188.4 489 191.5 490 191.6 491 191.8 492 191.6 493 191.3 494 191.3 495 191.2 495.7 191.5 496.2 188.2 496.4 174.9 496.8 151.7 497.2 136.2 497.5 151.7 497.8 174.9 498.1 188.2 498.6 191.5 499.6 191.1 500.1 191.5 500.6 190.3 500.8 185.4 501.2 177 501.6 171.3 501.9 177 502.2 185.4 502.5 190.3 503 191.5 504 191.7 505.3 191.5 505.8 188.2 506 174.9 506.4 151.7 506.8 136.2 507.1 151.7 507.4 174.9 507.7 188.2 508.2 191.5 509.2 191.8 510.2 191.3" fill="none" stroke="#333" stroke-width="0.9" stroke-linejoin="round"/>
<path d="M419.2 205.5H510.7" stroke="#222" stroke-width="1.2"/>
<text x="447.2" y="219.3" font-family="Liberation Sans, sans-serif" font-weight="bold" font-size="12" fill="#111" textLength="32" lengthAdjust="spacingAndGlyphs">1 min</text>
<path d="M54.3 281.3V304M51.6 286.7V298.9M57.6 282V300.2M60.3 284.7V298.5M64.1 284.3V301.1M61.4 284V301.3M68.5 275.3V306.4M71.2 283.4V300.3M72.7 279.7V301.2M75.4 286.4V297.2M76.7 291.3V294.4M79.4 291.5V294.2M82.4 283.1V302.6M79.7 285.5V300.3M86.6 282.2V299.6M83.9 286.1V297.3M90.5 284.7V299.6M87.8 286.9V297.9M93.7 281.2V302.3M96.4 284.6V299.6M102.1 277.2V304.1M99.4 283.9V299.5M105.3 280.3V299.4M108 282.9V298.2M113.8 280.1V300.7M111.1 281.2V300.1M115.6 290.7V295M118.3 291V294.8M118.2 282.3V302.3M120.9 286.4V298.8M124.3 286.5V298.1M121.6 286.1V298.4M126.8 284.4V298.9M129.5 286.3V297.6M132.6 279.1V304M129.9 282.9V301M136.8 280.3V304.5M134.1 286.1V299.3M140.7 290.3V295.3M138 290.8V294.9M142.7 287V298.3M140 289V296.6M144.6 278.8V304.6M147.3 284.8V299.8M149.5 288.9V295.8M146.8 290.3V294.9M155.9 282.8V303.2M158.6 288.7V297.4M159.3 284.9V299M162 285.2V298.8M164.7 281.1V304.3M162 287.4V298.3M169.4 281.8V302.8M166.7 287.4V298M171.9 283.9V300.2M174.6 287.8V297.2M178.4 283.2V299.3M175.7 283V299.4M181.1 280.5V300.3M183.8 285.6V297.4M188 280.8V303.6M185.3 284.6V300.4M192.7 281.4V302.5M190 286.2V298.6M195.5 282.4V299.4M198.2 282.5V299.4M201.1 280V300.2M198.4 286V296.9M201.7 290.7V295.2M204.4 291.7V294.3M207.4 282.4V303.1M204.7 288V297.9M214.3 281.2V300.3M217 284.9V298.1M219.5 282.6V303.3M216.8 286.4V299.6M221.9 282.4V299.9M224.6 283V299.5M225.2 284.5V299.1M227.9 286.8V297.5M229.8 280.6V303.1M232.5 284.7V299.8M234 276.5V304.6M236.7 280.7V301.7M239.5 283.7V300.2M242.2 285.2V299.1M247.5 280.6V300.9M244.8 282.3V299.8M249.6 283.3V301.5M252.3 283V301.7M254.7 282.6V299.7M257.4 284.1V298.8M262.2 283.3V301.8M259.5 287.1V298.4M265.8 280.3V301M263.1 285.8V297.6M269.8 283.5V301.8M272.5 288.2V297.6M276.5 277.2V305.7M273.8 281.8V302M281 281.4V300.7M278.3 287.9V296.5M285.3 280.1V301.1M288 284.7V298.3M290.4 280.8V303.3M293.1 284.9V299.8M294.3 284.4V301.5M297 285.2V300.7M298.5 275.7V301.3M301.2 286.2V296.3M304.7 284.4V299.7M307.4 286.4V298.2M311.8 281.6V302.6M314.5 284.8V300M314.8 280.2V302.3M317.5 283.4V300M323 281.8V299.5M325.7 284.7V297.8M326.1 283.8V299.2M328.8 284.5V298.8M331.2 279.9V303.2M333.9 285.2V299.1M338.8 278.9V303.2M336.1 285.3V298.6M341.6 278.1V301.5M344.3 283V298.8M347 277.3V304.1M344.3 283.8V299.6M349.4 286V296.9M352.1 288.8V295.4M354 278.2V300.4M351.3 284.3V297.4M356.9 276.5V301.1M359.6 281.6V298.7M361.1 278.2V301.9M363.8 285.4V297.6M365.4 283.5V300M368.1 283.6V299.9M372.2 281.7V303.1M369.5 285.8V299.4M374.3 280.1V299.4M377 283.5V297.8M377.8 290.3V294.5M380.5 290.1V294.6M383 275.9V304.9M380.3 285.2V298.5M385.1 277.9V304.6M387.8 286.1V298.4M393.7 276V301.5M396.4 285.3V297M399.3 282.7V302.9M396.6 285.9V299.9M402.6 283.8V299.7M399.9 284.9V298.9M407.6 282.9V301.2M404.9 286V298.7M411.5 287V299.9M408.8 287.9V298.9M416.4 283.3V301.4M413.7 286.1V299.1M419 277.5V306.8M421.7 286.8V298.7M426.7 281V301.4M424 285.5V298.3M432.1 285.4V298.1M429.4 284.9V298.5M435 278V301M437.7 283.4V298.2M439.3 281.6V302M442 284.8V299.5M444.3 275V303.1M447 280.1V300.3M450.5 278.5V301.8M453.2 281.7V299.8M457.4 278.5V302.9M454.7 282.5V300.3M460.3 283.7V302.7M463 285.9V300.5M468.7 281V302.4M471.4 286.2V298.4M473.3 277.9V306.2M470.6 282.3V302.4M475.3 281.7V300.1M478 286.8V297M482.3 278.7V303.1M479.6 285.8V298.2M484.7 280.3V302.4M487.4 285.7V298.5M489.6 283.5V303.4M492.3 285.5V301.2M493.5 279.5V302.6M496.2 284.2V299.4M498.6 277.1V306M501.3 282.2V301.9M505.6 286.4V298.1M508.3 287.7V297.1M509.8 285.3V298.2M507.1 287.3V296.9" stroke="#b0b0e4" stroke-width="0.6" fill="none"/>
<path d="M53.4 276.2V308.6M52.5 284.2V301.3M58.5 274V305.4M59.4 281.7V300.5M63.2 275V309.4M62.3 283.7V301.5M69.4 270.3V310.1M70.3 275.5V306.2M73.6 273.1V305.2M74.5 279.5V301.3M77.6 289.2V295.8M78.5 291V294.5M81.5 278.1V307.4M80.6 285.5V300.4M85.7 275.8V303.4M84.8 281V300.3M89.6 276.5V305.8M88.7 280.3V302.9M94.6 273.7V308M95.5 280.1V303.1M101.2 272.9V307.1M100.3 277.1V304.2M106.2 270V304.5M107.1 277.3V300.9M112.9 270.2V306.5M112 279.6V301M116.5 288.3V296.9M117.4 289.7V295.8M119.1 276.4V307.4M120 282.1V302.5M123.4 279.6V303.4M122.5 284.1V299.9M127.7 276.7V304M128.6 281.4V300.9M131.7 272.8V308.9M130.8 277.8V305M135.9 276.8V307.6M135 281.9V303.1M139.8 287.7V297.4M138.9 288.8V296.5M141.8 280V304.3M140.9 285V300M145.5 272.6V309.6M146.4 281V302.8M148.6 287.7V296.6M147.7 289.5V295.4M156.8 278.5V307.3M157.7 282.3V303.6M160.2 275.5V305.8M161.1 280.5V302.2M163.8 277.4V307.6M162.9 285.1V300.5M168.5 275.8V307.9M167.6 280.1V304.2M172.8 278.8V304.1M173.7 285.2V299.2M177.5 274.8V304.6M176.6 280.7V300.8M182 270.9V305.7M182.9 281.9V299.5M187.1 274.6V308.9M186.2 283.4V301.4M191.8 273.9V308.6M190.9 279.5V304M196.4 272.8V305.2M197.3 281V300.3M200.2 274.6V303.1M199.3 279.3V300.6M202.6 289.5V296.3M203.5 291.3V294.7M206.5 277.9V307.3M205.6 282.6V302.9M215.2 274.8V304.2M216.1 282V299.8M218.6 278.6V307.2M217.7 282V303.8M222.8 273V305.9M223.7 278.2V302.5M226.1 279.5V302.7M227 283.3V300M230.7 275.1V307.5M231.6 282.3V301.8M234.9 270.4V308.8M235.8 275.7V305.1M240.4 277.1V305.2M241.3 283.1V300.6M246.6 270.7V307.1M245.7 279.9V301.3M250.5 274.2V309.3M251.4 283.2V301.6M255.6 274.8V304.6M256.5 278.6V302.3M261.3 275.7V308.5M260.4 280V304.7M264.9 269.1V307.9M264 276.6V303.3M270.7 278.9V306M271.6 282.4V302.9M275.6 271.4V310.3M274.7 281.7V302.1M280.1 275.8V304.3M279.2 283.1V299.6M286.2 274.9V304.3M287.1 282.2V299.8M291.3 276.7V306.6M292.2 284.1V300.6M295.2 278.3V307.4M296.1 281.3V304.5M299.4 271.2V303.4M300.3 278.4V300M305.6 274V307.6M306.5 282.7V301M312.7 273.9V309M313.6 278.8V305M315.7 273.8V306.8M316.6 282.1V300.9M323.9 275.6V303.1M324.8 280.9V300M327 272.5V306.6M327.9 282V300.4M332.1 273.4V308.1M333 282.4V301.3M337.9 270.9V308.8M337 281.2V301.5M342.5 273.6V304.1M343.4 279V301M346.1 270.5V308.9M345.2 279.4V302.7M350.3 281V299.5M351.2 283.7V298.1M353.1 271.1V303.8M352.2 281.7V298.7M357.8 271.6V303.5M358.7 279.7V299.6M362 271.8V305.7M362.9 282.3V299.5M366.3 275.7V305.6M367.2 281V301.7M371.3 278.4V306M370.4 283.6V301.4M375.2 270.2V304.3M376.1 279.7V299.6M378.7 287V296.2M379.6 289.7V294.8M382.1 270.3V308.8M381.2 276.3V304.6M386 272.4V308.8M386.9 278.5V304.2M394.6 269V305M395.5 279.9V299.6M398.4 277.7V307.7M397.5 283.5V302.2M401.7 275.2V305.7M400.8 281V301.6M406.7 278.4V304.7M405.8 283.2V300.9M410.6 280.7V306.9M409.7 283.6V303.7M415.5 277.8V306.2M414.6 284.4V300.5M419.9 273.2V310.5M420.8 278.2V306.2M425.8 271V308.3M424.9 277.2V304M431.2 276.5V303.9M430.3 283.8V299.1M435.9 270.8V304.8M436.8 277.4V301.4M440.2 272.6V308.9M441.1 280.4V302.9M445.2 268.4V306.8M446.1 274.2V303.6M451.4 272.4V305.4M452.3 278.4V301.8M456.5 272.9V306.7M455.6 277.9V303.3M461.2 277.6V309M462.1 282.2V304.3M469.6 277V305.5M470.5 281.4V302.1M472.4 272.2V311.1M471.5 277.5V306.5M476.2 276.5V303.3M477.1 281.8V300.1M481.4 273V307.1M480.5 277.5V304M485.6 272.3V308.2M486.5 279.5V303M490.5 277.9V309.3M491.4 283.1V303.7M494.4 275.7V305.3M495.3 283.5V299.9M499.5 271.6V310.5M500.4 279.9V303.8M506.5 281.6V301.7M507.4 286V298.4M508.9 279V302.3M508 284.9V298.4" stroke="#1010f8" stroke-width="0.8" fill="none"/>
<path d="M53.1 291.1 53.6 295.3 54 290.3 54.5 295 54.9 290.5 55.4 295.4 55.8 290 56.3 295.1 56.7 290.5 57.2 294.7 57.6 290.7 58.1 295 58.5 291 59 294.7 59.4 290.1 59.9 296.4 60.3 290 60.8 295.1 61.2 290.9 61.7 294.6 62.1 290 62.6 295.5 63 289.3 63.5 294.9 63.9 290.1 64.4 295.3 64.8 290.5 65.3 295.2 65.7 290 66.2 294.5 66.6 291 67.1 294.4 67.5 291 68 295.5 68.4 290.8 68.9 295 69.3 290.2 69.8 294.4 70.2 290.2 70.7 294.9 71.1 291 71.6 295.4 72 290.3 72.5 294.6 72.9 291.1 73.4 294.8 73.8 290 74.3 295 74.7 291.1 75.2 295.2 75.6 290.7 76.1 295.2 76.5 290.9 77 294.9 77.4 290.8 77.9 294.6 78.3 290.1 78.8 295.3 79.2 290.1 79.7 294.9 80.1 290.4 80.6 296.3 81 289.8 81.5 294.9 81.9 290.9 82.4 295.1 82.8 290.3 83.3 294.6 83.7 290.2 84.2 294.6 84.6 290.2 85.1 294.4 85.5 290.3 86 294.7 86.4 290.3 86.9 295 87.3 290.3 87.8 295 88.2 291 88.7 294.5 89.1 290.2 89.6 294.9 90 290.2 90.5 294.6 90.9 290.7 91.4 295.4 91.8 290.4 92.3 294.8 92.7 290.5 93.2 295.5 93.6 290.9 94.1 294.8 94.5 290.9 95 295.2 95.4 291 95.9 294.8 96.3 291.2 96.8 295.2 97.2 290.4 97.7 294.5 98.1 291.2 98.6 295.5 99 291 99.5 294.8 99.9 290.3 100.4 295 100.8 290.3 101.3 295.1 101.7 290.5 102.2 294.4 102.6 291 103.1 294.6 103.5 290.6 104 294.8 104.4 290.2 104.9 295.3 105.3 290.3 105.8 294.6 106.2 290 106.7 294.9 107.1 290.7 107.6 294.5 108 290.3 108.5 295.2 108.9 291.2 109.4 295.4 109.8 290.9 110.3 294.7 110.7 290.9 111.2 294.8 111.6 290 112.1 295.5 112.5 290.5 113 295.5 113.4 290.6 113.9 294.5 114.3 291.1 114.8 295.2 115.2 290.3 115.7 294.6 116.1 290 116.6 295.1 117 290.5 117.5 295.2 117.9 290.9 118.4 295 118.8 289.5 119.3 294.5 119.7 290.3 120.2 294.8 120.6 290.3 121.1 294.6 121.5 290.1 122 294.4 122.4 291 122.9 294.6 123.3 290.3 123.8 295.5 124.2 290.3 124.7 296.5 125.1 289.6 125.6 294.5 126 291.1 126.5 294.9 126.9 290 127.4 295.4 127.8 290.3 128.3 294.7 128.7 289.9 129.2 295.3 129.6 291 130.1 295.2 130.5 290.6 131 295.1 131.4 288.9 131.9 295.4 132.3 290.2 132.8 295.1 133.2 290.1 133.7 295.5 134.1 291.1 134.6 294.9 135 290.3 135.5 294.9 135.9 290.9 136.4 295.4 136.8 290.1 137.3 294.8 137.7 290.5 138.2 295.5 138.6 290.7 139.1 294.6 139.5 291.1 140 295.6 140.4 290 140.9 295.5 141.3 290.6 141.8 294.7 142.2 290.7 142.7 294.9 143.1 291 143.6 294.8 144 290.1 144.5 294.8 144.9 290.1 145.4 295.1 145.8 290 146.2 294.4 146.7 291.1 147.1 295.1 147.6 290.3 148 295.6 148.5 290.3 148.9 294.6 149.4 290.9 149.8 295 150.3 290.9 150.7 294.8 151.2 290.4 151.6 296.7 152.1 290.6 152.5 294.4 153 290.1 153.4 294.9 153.9 290.6 154.3 295.1 154.8 290.1 155.2 294.4 155.7 290.9 156.1 295.5 156.6 290 157 295.1 157.5 290.4 157.9 296.4 158.4 290.7 158.8 295.5 159.3 290.6 159.7 294.8 160.2 290.8 160.6 296.1 161.1 290.1 161.5 296 162 290.6 162.4 295.5 162.9 290 163.3 294.8 163.8 290.9 164.2 295 164.7 290.1 165.1 295.2 165.6 290.8 166 295 166.5 290.1 166.9 295 167.4 291 167.8 294.5 168.3 290.6 168.7 295.4 169.2 291.1 169.6 295.3 170.1 290.2 170.5 294.5 171 291.2 171.4 295.2 171.9 290.5 172.3 295.6 172.8 290.1 173.2 295.1 173.7 290.2 174.1 295.5 174.6 291 175 295.3 175.5 290.7 175.9 295.3 176.4 290.7 176.8 294.8 177.3 290.3 177.7 295.3 178.2 290.1 178.6 294.7 179.1 290.1 179.5 295.1 180 290.7 180.4 295.3 180.9 290.4 181.3 294.6 181.8 290.2 182.2 294.5 182.7 291.2 183.1 295.5 183.6 290.9 184 295.5 184.5 290.1 184.9 295.3 185.4 290.6 185.8 295.5 186.3 290.8 186.7 295.5 187.2 290.6 187.6 295.5 188.1 290.7 188.5 294.9 189 290 189.4 296.2 189.9 290.6 190.3 294.8 190.8 290 191.2 294.7 191.7 290.2 192.1 295.6 192.6 290.3 193 294.6 193.5 290.9 193.9 295.5 194.4 291.1 194.8 294.9 195.3 290.7 195.7 296.2 196.2 290.6 196.6 294.7 197.1 290.5 197.5 295.6 198 290.5 198.4 295.1 198.9 291 199.3 294.5 199.8 291.2 200.2 295.3 200.7 290.3 201.1 295.3 201.6 290.8 202 294.4 202.5 289.8 202.9 294.9 203.4 290.4 203.8 295 204.3 290.4 204.7 294.8 205.2 291.1 205.6 295.2 206.1 291.2 206.5 295.3 207 290.2 207.4 295.5 207.9 291.1 208.3 294.8 208.8 290 209.2 295 209.7 290.7 210.1 295.2 210.6 291 211 295.4 211.5 290.3 211.9 294.6 212.4 290.7 212.8 294.5 213.3 288.9 213.7 295.6 214.2 290.3 214.6 295.1 215.1 290.2 215.5 295.1 216 290.3 216.4 294.4 216.9 290.8 217.3 294.5 217.8 290.1 218.2 295.1 218.7 290.4 219.1 295.3 219.6 290.3 220 294.6 220.5 290.2 220.9 295.3 221.4 290.1 221.8 294.5 222.3 290.7 222.7 295.4 223.2 291.2 223.6 295.3 224.1 290.3 224.5 294.7 225 290 225.4 294.9 225.9 290 226.3 294.5 226.8 290.5 227.2 294.4 227.7 290.6 228.1 295.3 228.6 291.1 229 295 229.5 290.8 229.9 295.5 230.4 290.1 230.8 295.2 231.3 290.5 231.7 295.4 232.2 290.4 232.6 295.1 233.1 290.4 233.5 294.7 234 290.6 234.4 294.7 234.9 290.3 235.3 295.6 235.8 291.1 236.2 295.2 236.7 290.9 237.1 295.6 237.6 290.9 238 294.8 238.5 290.5 238.9 294.7 239.4 290.4 239.8 294.7 240.3 290 240.7 295.1 241.2 290.3 241.6 294.6 242.1 290.3 242.5 294.6 243 289 243.4 294.8 243.9 291 244.3 296.2 244.8 291 245.2 295.5 245.7 290.6 246.1 295.3 246.6 290.8 247 294.4 247.5 290.8 247.9 294.8 248.4 291.2 248.8 294.7 249.3 291.1 249.7 294.4 250.2 290.7 250.6 294.5 251.1 290.7 251.5 294.5 252 290.9 252.4 295.5 252.9 290.3 253.3 295.2 253.8 290.3 254.2 295.3 254.7 291.1 255.1 295.1 255.6 291 256 294.7 256.5 290.8 256.9 294.5 257.4 290.4 257.8 295.2 258.3 290.9 258.7 296.3 259.2 290.4 259.6 295.1 260.1 290.4 260.5 295.5 261 290.7 261.4 294.7 261.9 290.4 262.3 295.6 262.8 290.2 263.2 294.8 263.7 290.7 264.1 294.5 264.6 290.8 265 295.1 265.5 291.1 265.9 295.3 266.4 290.8 266.8 294.5 267.3 289.7 267.7 294.5 268.2 291.1 268.6 294.7 269.1 290.1 269.5 295.1 270 290.8 270.4 294.8 270.9 290.4 271.3 295.5 271.8 290.3 272.2 294.4 272.7 290.1 273.1 295.4 273.6 290.1 274 294.4 274.5 290.7 274.9 294.7 275.4 290.6 275.8 295.1 276.3 290.7 276.7 295.5 277.2 290.3 277.6 294.7 278.1 290.9 278.5 294.5 279 290.6 279.4 295.1 279.9 290.1 280.3 294.5 280.8 291.1 281.2 295 281.7 291.1 282.1 295 282.6 290.3 283 295.4 283.5 291.1 283.9 296.8 284.4 290.6 284.8 295 285.3 290.2 285.7 295.2 286.2 291.2 286.6 295.3 287.1 291 287.5 294.9 288 289.1 288.4 295.2 288.9 289.4 289.3 295.3 289.8 290.2 290.2 295.6 290.7 290.8 291.1 294.7 291.6 291 292 295.7 292.5 290.2 292.9 295.2 293.4 290.1 293.8 295 294.3 290.3 294.7 295.6 295.2 291.2 295.6 294.9 296.1 290.5 296.5 294.7 297 291 297.4 295.1 297.9 290.5 298.3 294.7 298.8 290.9 299.2 295.5 299.7 291 300.1 295.3 300.6 290.7 301 295.4 301.5 290.9 301.9 294.7 302.4 290.3 302.8 295.3 303.3 290.7 303.7 295.6 304.2 291.1 304.6 294.6 305.1 291.1 305.5 294.8 306 290.4 306.4 294.9 306.9 290.6 307.3 294.8 307.8 290.5 308.2 295.1 308.7 290.7 309.1 295.5 309.6 290.7 310 294.7 310.5 289 310.9 294.7 311.4 290.1 311.8 294.8 312.3 290.1 312.7 295 313.2 290 313.6 294.5 314.1 290.5 314.5 294.6 315 290.8 315.4 294.9 315.9 290.8 316.3 295.2 316.8 291.1 317.2 295.5 317.7 290.4 318.1 294.9 318.6 290.5 319 295.3 319.5 290.2 319.9 295.2 320.4 290.7 320.8 295.2 321.3 290.5 321.7 294.7 322.2 290.3 322.6 295.4 323.1 290.1 323.5 295.2 324 291.1 324.4 295.1 324.9 288.9 325.3 295.4 325.8 290.9 326.2 294.6 326.7 290.3 327.1 294.4 327.6 291.1 328 295.7 328.5 290.8 328.9 295.4 329.4 290.1 329.8 294.8 330.3 290 330.7 295.4 331.2 290.6 331.6 295.1 332.1 290.2 332.5 295.4 333 290.2 333.4 294.5 333.9 291.1 334.3 295.4 334.8 290.6 335.2 295.1 335.7 290.6 336.1 294.4 336.6 290.9 337 294.9 337.5 290.6 337.9 295.3 338.4 291.2 338.8 294.7 339.3 290.7 339.7 294.6 340.2 290 340.6 295.5 341.1 290.8 341.5 295.2 342 290.2 342.4 295 342.9 290.3 343.3 294.8 343.8 290.9 344.2 295.2 344.7 291.2 345.1 295.3 345.6 290.2 346 295 346.5 291.1 346.9 295.1 347.4 291.1 347.8 295 348.3 290.2 348.7 294.9 349.2 290.6 349.6 295.3 350.1 291.1 350.5 294.5 351 291 351.4 295.5 351.9 291.1 352.3 294.4 352.8 290.2 353.2 294.8 353.7 291 354.1 295.3 354.6 291.2 355 295.2 355.5 290.4 355.9 295.4 356.4 290.7 356.8 294.9 357.3 290.4 357.7 295.5 358.2 290.5 358.6 295.5 359.1 290.3 359.5 294.7 360 290.2 360.4 294.9 360.9 290.3 361.3 295.5 361.8 290.2 362.2 296.4 362.7 290.2 363.1 295.6 363.6 290.8 364 295.4 364.5 290.4 364.9 294.7 365.4 290.3 365.8 296.4 366.3 290.9 366.7 295.5 367.2 290.8 367.6 294.9 368.1 288.7 368.5 295.3 369 290.5 369.4 295.4 369.9 291.1 370.3 294.6 370.8 290.8 371.2 294.8 371.7 290.8 372.1 295.3 372.6 291.1 373 294.6 373.5 290.3 373.9 295.5 374.4 290.5 374.8 295.4 375.3 290 375.7 295 376.2 290.3 376.6 295.3 377.1 291.1 377.5 295.5 378 291.2 378.4 295.1 378.9 291.1 379.3 295.2 379.8 290.6 380.2 295.2 380.7 290.5 381.1 294.8 381.6 290.3 382 295.5 382.5 290 382.9 294.5 383.4 291.2 383.8 294.7 384.3 290.5 384.7 295.2 385.2 290.4 385.6 295 386.1 291.2 386.5 295.6 387 290.9 387.4 295.3 387.9 290.2 388.3 294.5 388.8 290.1 389.2 294.6 389.7 291.1 390.1 294.8 390.6 290.6 391 295 391.5 291.2 391.9 295.1 392.4 290.2 392.8 295.9 393.3 290.1 393.7 295.2 394.2 290.6 394.6 295.4 395.1 290.3 395.5 295 396 290.9 396.4 295.2 396.9 290.4 397.3 294.7 397.8 288.9 398.2 295.4 398.7 291 399.1 295 399.6 290.2 400 294.6 400.5 290 400.9 294.5 401.4 290.5 401.8 295.4 402.3 290.6 402.7 294.4 403.2 290.2 403.6 295.1 404.1 290.8 404.5 294.7 405 290.7 405.4 295.6 405.9 290.2 406.3 294.9 406.8 290.4 407.2 294.6 407.7 291.1 408.1 294.9 408.6 290.3 409 295 409.5 290.6 409.9 295 410.4 290.9 410.8 295.1 411.3 290.3 411.7 295.2 412.2 290.4 412.6 295.4 413.1 291.2 413.5 295 414 290.3 414.4 295.5 414.9 291 415.3 296.7 415.8 290.4 416.2 294.9 416.7 290.5 417.1 295.4 417.6 290.5 418 294.7 418.5 290.1 418.9 295.1 419.4 290.7 419.8 296.1 420.3 290.2 420.7 295.5 421.2 290.9 421.6 295.1 422.1 291.2 422.5 294.5 423 288.7 423.4 294.7 423.9 290.1 424.3 294.5 424.8 290.3 425.2 294.8 425.7 290.7 426.1 295.6 426.6 291.1 427 295.1 427.5 290.3 427.9 296.4 428.4 290.3 428.8 295.2 429.3 291 429.7 294.8 430.2 290.4 430.6 295.2 431.1 290.6 431.5 294.6 432 290.1 432.4 294.5 432.9 290.8 433.3 294.9 433.8 291.2 434.2 295.5 434.7 290.1 435.1 295.2 435.6 290.7 436 295.5 436.5 290.5 436.9 294.4 437.4 291.2 437.8 295.2 438.3 289.5 438.7 295 439.2 290.4 439.6 295.2 440.1 290.1 440.5 295.5 441 290.8 441.4 294.6 441.9 290.4 442.3 295 442.8 290 443.2 295.5 443.7 290 444.1 295.2 444.6 291.2 445 294.8 445.5 290.5 445.9 294.8 446.4 290.5 446.8 295.4 447.3 290.6 447.7 294.5 448.2 291.1 448.6 294.8 449.1 289.2 449.5 294.6 450 290.1 450.4 294.9 450.9 290.2 451.3 294.9 451.8 291.2 452.2 295.3 452.7 290.3 453.1 295 453.6 290.6 454 295.2 454.5 290.9 454.9 294.8 455.4 290.4 455.8 294.5 456.3 290.2 456.7 295.1 457.2 290.3 457.6 294.8 458.1 290.2 458.5 295 459 291.2 459.4 295.3 459.9 290.9 460.3 295.5 460.8 290.9 461.2 295.1 461.7 290.4 462.1 295.2 462.6 290.9 463 295.5 463.5 290.2 463.9 295 464.4 290 464.8 296.4 465.3 290.5 465.7 294.7 466.2 290.6 466.6 294.5 467.1 290.4 467.5 295 468 290.9 468.4 294.5 468.9 290.1 469.3 295.5 469.8 290.1 470.2 294.5 470.7 290 471.1 294.8 471.6 290.7 472 295.6 472.5 290.9 472.9 295.1 473.4 290.3 473.8 294.9 474.3 290.7 474.7 295.3 475.2 290.4 475.6 295.5 476.1 290.1 476.5 294.6 477 291 477.4 295.3 477.9 290.5 478.3 295.7 478.8 290.4 479.2 294.7 479.7 290.9 480.1 294.6 480.6 290.4 481 295.6 481.5 290.9 481.9 295.2 482.4 290.8 482.8 295 483.3 290.5 483.7 295.5 484.2 290.9 484.6 295.1 485.1 290.1 485.5 294.9 486 291.2 486.4 295.2 486.9 290.2 487.3 295 487.8 290.1 488.2 294.5 488.7 290.6 489.1 294.8 489.6 291 490 294.8 490.5 291 490.9 294.5 491.4 291.1 491.8 295.1 492.3 290.6 492.7 295.3 493.2 290.9 493.6 297.3 494.1 290.8 494.5 295.4 495 290.7 495.4 294.4 495.9 288 496.3 296.5 496.8 291 497.2 295.3 497.7 289.3 498.1 294.5 498.6 290.7 499 294.6 499.5 290.1 499.9 295 500.4 290.5 500.8 295.6 501.3 290.3 501.7 295.3 502.2 290.1 502.6 295.3 503.1 290.7 503.5 294.7 504 290.7 504.4 295 504.9 290.4 505.3 294.9 505.8 290.9 506.2 294.7 506.7 290 507.1 295.6 507.6 291.1 508 294.7 508.5 290.7 508.9 294.7 509.4 290.1 509.8 296.1 510.3 290.1 510.7 294.5 511.2 290" fill="none" stroke="#1010f8" stroke-width="0.5"/>
<rect x="53.1" y="291.4" width="458.1" height="3.4" fill="#1010f8"/>
<path d="M150.1 293.1L152.3 288.1L154.3 288.1L156.5 293.1L154.3 298.1L152.3 298.1Z" fill="#1010f8"/>
<path d="M208.9 293.1L211.1 288.1L213.1 288.1L215.3 293.1L213.1 298.1L211.1 298.1Z" fill="#1010f8"/>
<path d="M317.9 293.1L320.1 288.1L322.1 288.1L324.3 293.1L322.1 298.1L320.1 298.1Z" fill="#1010f8"/>
<path d="M388.4 293.1L390.6 288.1L392.6 288.1L394.8 293.1L392.6 298.1L390.6 298.1Z" fill="#1010f8"/>
<path d="M462.9 293.1L465.1 288.1L467.1 288.1L469.3 293.1L467.1 298.1L465.1 298.1Z" fill="#1010f8"/>
<path d="M53.1 419.1L53.4 357.9 53.5 413.1 54.6 418.1 55.6 418.6 56.9 419.1 57.2 411.6 57.5 394.2 58 376.9 58.5 369.4 58.9 376.9 59.4 394.2 59.6 411.6 60 417.6 60.5 419.1 61.6 419.1 61.9 411.1 62.2 392.4 62.7 373.7 63.2 365.7 63.6 373.7 64 392.4 64.3 411.1 64.7 417.5 65.2 419.1 66.2 419 67.2 418.5 67.8 419.1 68.1 411.3 68.4 393.1 68.9 375 69.4 367.2 69.8 375 70.2 393.1 70.5 411.3 70.9 417.5 71.4 419.1 70 419.1 71 412.6 71.7 415.8 72.5 389.8 73.1 369.3 73.6 360.5 73.9 369.3 74.4 389.8 74.7 410.3 75.1 417.3 75.6 419.1 76 419.1 76.3 417.2 76.5 412.9 77.1 408.6 77.6 406.7 77.9 408.6 78.4 412.9 78.7 417.2 79.1 418.7 79.6 419.1 79.9 419.1 80.2 411.8 80.5 394.7 81 377.6 81.5 370.3 81.8 377.6 82.3 394.7 82.6 411.8 83.4 416 84.1 412.9 85.1 419.1 84.1 419.1 84.4 412 84.7 395.5 85.2 379 85.7 371.9 86 379 86.5 395.5 86.8 412 87.2 417.7 87.7 419.1 88 419.1 88.3 411.6 88.5 394.2 89.1 376.9 89.6 369.4 89.9 376.9 90.4 394.2 90.7 411.6 91.5 413.7 92.2 408.3 93.2 419.1 91 419.1 92 411 92.7 415.1 93.5 389.8 94.1 369.3 94.6 360.5 94.9 369.3 95.4 389.8 95.7 410.3 96.1 417.3 96.6 419.1 97.6 419.1 98.6 413.2 99.3 416.1 100.2 390.6 100.7 370.7 101.2 362.1 101.5 370.7 102 390.6 102.3 410.6 102.7 417.4 103.2 419.1 104.6 419.1 104.9 410.9 105.2 391.6 105.7 372.4 106.2 364.1 106.5 372.4 107 391.6 107.3 410.9 107.7 417.5 108.2 419.1 109.2 418.5 110.2 418.6 111.3 419.1 111.6 411.4 111.9 393.5 112.4 375.5 112.9 367.8 113.2 375.5 113.8 393.5 114 411.4 114.8 415.8 115.5 412.5 116.5 419.1 114.9 419.1 115.2 416.5 115.5 410.6 116 404.6 116.5 402 116.8 404.6 117.3 410.6 117.6 416.5 118 418.6 118.5 419.1 115.5 419.1 116.5 408.4 117.2 413.8 118 396.8 118.6 381.2 119.1 374.5 119.4 381.2 119.9 396.8 120.2 412.4 120.6 417.8 121.1 419.1 119.8 419.1 120.8 412.6 121.5 415.8 122.4 396.1 122.9 379.9 123.4 373 123.8 379.9 124.2 396.1 124.5 412.2 124.9 417.7 125.4 419.1 124.1 419.1 125.1 408 125.8 413.5 126.7 393.5 127.2 375.5 127.7 367.8 128.1 375.5 128.6 393.5 128.8 411.4 129.2 417.6 129.7 419.1 128.1 419.1 129.1 412 129.8 415.5 130.6 391.8 131.2 372.6 131.7 364.4 132 372.6 132.5 391.8 132.8 410.9 133.2 417.5 133.7 419.1 134.3 419.1 134.6 410.6 134.8 390.6 135.4 370.7 135.9 362.1 136.2 370.7 136.8 390.6 137 410.6 137.4 417.4 137.9 419.1 138.2 419.1 138.5 416.8 138.8 411.6 139.3 406.3 139.8 404 140.2 406.3 140.7 411.6 140.9 416.8 141.3 418.6 141.8 419.1 140.2 419.1 140.5 412.3 140.8 396.6 141.3 380.8 141.8 374 142.2 380.8 142.7 396.6 142.9 412.3 143.3 417.7 143.8 419.1 143.9 419.1 144.2 411.4 144.4 393.5 145 375.5 145.5 367.8 145.8 375.5 146.3 393.5 146.6 411.4 147 417.6 147.5 419.1 147 419.1 147.3 417.2 147.5 412.9 148.1 408.6 148.6 406.7 148.9 408.6 149.4 412.9 149.7 417.2 150.1 418.7 150.6 419.1 151.6 418.6 152.6 418.5 153.6 418.7 154.6 418.9 155.2 419.1 155.5 411.9 155.8 395 156.3 378.1 156.8 370.9 157.2 378.1 157.7 395 157.9 411.9 158.7 413.3 159.4 407.4 160.4 419.1 156.6 419.1 157.6 409 158.3 414.1 159.1 390.4 159.7 370.2 160.2 361.6 160.5 370.2 161 390.4 161.3 410.5 161.7 417.4 162.2 419.1 160.2 419.1 161.2 411.6 161.9 415.4 162.8 392.1 163.3 373.3 163.8 365.2 164.2 373.3 164.7 392.1 164.9 411 165.3 417.5 165.8 419.1 166.9 419.1 167.2 411.4 167.4 393.5 168 375.5 168.5 367.8 168.8 375.5 169.3 393.5 169.6 411.4 170 417.6 170.5 419.1 171.2 419.1 171.5 411.4 171.8 393.3 172.3 375.2 172.8 367.5 173.2 375.2 173.7 393.3 173.9 411.4 174.3 417.6 174.8 419.1 175.9 419.1 176.2 412.2 176.4 396.1 177 379.9 177.5 373 177.8 379.9 178.3 396.1 178.6 412.2 179 417.7 179.5 419.1 180.4 419.1 180.7 411 180.9 392.1 181.5 373.3 182 365.2 182.3 373.3 182.8 392.1 183.1 411 183.5 417.5 184 419.1 183.5 419.1 184.5 413.9 185.2 416.5 186 393.7 186.6 375.9 187.1 368.3 187.4 375.9 187.9 393.7 188.2 411.5 188.6 417.6 189.1 419.1 190.2 419.1 190.5 411.6 190.8 394 191.3 376.3 191.8 368.8 192.2 376.3 192.7 394 192.9 411.6 193.7 414.5 194.4 409.9 195.4 419.1 192.8 419.1 193.8 412 194.5 415.6 195.3 396.4 195.9 380.5 196.4 373.7 196.8 380.5 197.2 396.4 197.5 412.3 197.9 417.7 198.4 419.1 196.6 419.1 197.6 409.7 198.3 414.4 199.1 394.7 199.7 377.6 200.2 370.3 200.5 377.6 201 394.7 201.3 411.8 201.7 417.6 202.2 419.1 201 419.1 201.3 417.6 201.5 414.1 202.1 410.5 202.6 409 202.9 410.5 203.4 414.1 203.7 417.6 204.1 418.8 204.6 419.1 204.9 419.1 205.2 410.6 205.4 390.9 206 371.1 206.5 362.6 206.8 371.1 207.3 390.9 207.6 410.6 208.4 414.9 209.1 410.8 210.1 419.1 211.1 418.5 212.1 418.7 213.6 419.1 213.9 411.1 214.1 392.4 214.7 373.7 215.2 365.7 215.5 373.7 216 392.4 216.3 411.1 216.7 417.5 217.2 419.1 217 419.1 217.3 411.8 217.5 394.7 218.1 377.6 218.6 370.3 218.9 377.6 219.4 394.7 219.7 411.8 220.1 417.6 220.6 419.1 221.2 419.1 221.5 411.3 221.8 393.1 222.3 375 222.8 367.2 223.2 375 223.7 393.1 223.9 411.3 224.7 413.7 225.4 408.3 226.4 419.1 222.5 419.1 223.5 412.3 224.2 415.7 225 396.2 225.6 380.3 226.1 373.4 226.4 380.3 226.9 396.2 227.2 412.2 227.6 417.7 228.1 419.1 229.1 419.1 229.4 411.1 229.6 392.4 230.2 373.7 230.7 365.7 231 373.7 231.5 392.4 231.8 411.1 232.6 414.2 233.3 409.3 234.3 419.1 233.3 419.1 233.6 411.3 233.8 393 234.4 374.6 234.9 366.8 235.2 374.6 235.8 393 236 411.3 236.4 417.5 236.9 419.1 237.9 418.6 238.8 419.1 239.1 411.1 239.3 392.4 239.9 373.7 240.4 365.7 240.8 373.7 241.2 392.4 241.5 411.1 241.9 417.5 242.4 419.1 243.4 418.8 244.4 418.6 245 419.1 245.3 411.5 245.5 393.7 246.1 375.9 246.6 368.3 246.9 375.9 247.4 393.7 247.7 411.5 248.5 416.3 249.2 413.5 250.2 419.1 248.9 419.1 249.2 411.5 249.4 393.7 250 375.9 250.5 368.3 250.8 375.9 251.3 393.7 251.6 411.5 252 417.6 252.5 419.1 254 419.1 254.3 411.9 254.5 395 255.1 378.1 255.6 370.9 255.9 378.1 256.4 395 256.7 411.9 257.1 417.7 257.6 419.1 258.6 418.9 259.7 419.1 260 411.6 260.2 394.2 260.8 376.9 261.3 369.4 261.7 376.9 262.2 394.2 262.4 411.6 263.2 414 263.9 409 264.9 419.1 263.3 419.1 263.6 410.2 263.8 389.5 264.4 368.7 264.9 359.8 265.2 368.7 265.8 389.5 266 410.2 266.8 416.5 267.5 414 268.5 419.1 269.1 419.1 269.4 411.6 269.6 394 270.2 376.3 270.7 368.8 271.1 376.3 271.6 394 271.8 411.6 272.2 417.6 272.7 419.1 274 419.1 274.3 411.1 274.6 392.4 275.1 373.7 275.6 365.7 276 373.7 276.5 392.4 276.7 411.1 277.5 415.2 278.2 411.2 279.2 419.1 278.5 419.1 278.8 411.4 279.1 393.3 279.6 375.2 280.1 367.5 280.5 375.2 281 393.3 281.2 411.4 282 414.5 282.7 409.8 283.7 419.1 284.6 419.1 284.9 410.1 285.1 389.1 285.7 368 286.2 359 286.6 368 287.1 389.1 287.3 410.1 287.7 417.3 288.2 419.1 289.7 419.1 290 412 290.2 395.5 290.8 379 291.3 371.9 291.7 379 292.2 395.5 292.4 412 292.8 417.7 293.3 419.1 293.6 419.1 293.9 411.4 294.1 393.5 294.7 375.5 295.2 367.8 295.6 375.5 296.1 393.5 296.3 411.4 297.1 413.8 297.8 408.5 298.8 419.1 297.8 419.1 298.1 411.5 298.3 393.7 298.9 375.9 299.4 368.3 299.8 375.9 300.2 393.7 300.5 411.5 301.3 414.9 302 410.8 303 419.1 304 419.1 304.3 411.6 304.6 394.2 305.1 376.9 305.6 369.4 306 376.9 306.5 394.2 306.7 411.6 307.1 417.6 307.6 419.1 308.6 419 309.6 419 311.1 419.1 311.4 411.3 311.6 393.1 312.2 375 312.7 367.2 313.1 375 313.6 393.1 313.8 411.3 314.2 417.5 314.7 419.1 312.1 419.1 313.1 407.8 313.8 413.5 314.6 393.7 315.2 375.9 315.7 368.3 316.1 375.9 316.6 393.7 316.8 411.5 317.2 417.6 317.7 419.1 318.7 418.9 319.7 418.8 320.3 419.1 321.3 413.2 322 416.1 322.8 394.7 323.4 377.6 323.9 370.3 324.2 377.6 324.8 394.7 325 411.8 325.4 417.6 325.9 419.1 325.4 419.1 325.7 410.8 325.9 391.4 326.5 371.9 327 363.6 327.4 371.9 327.9 391.4 328.1 410.8 328.5 417.4 329 419.1 330.5 419.1 330.8 411.6 331.1 394 331.6 376.3 332.1 368.8 332.5 376.3 333 394 333.2 411.6 334 416.1 334.7 413 335.7 419.1 334.3 419.1 335.3 409.6 336 414.4 336.8 394.5 337.4 377.3 337.9 369.9 338.2 377.3 338.8 394.5 339 411.7 339.4 417.6 339.9 419.1 340.9 419.1 341.2 412 341.4 395.5 342 379 342.5 371.9 342.9 379 343.4 395.5 343.6 412 344 417.7 344.5 419.1 344.5 419.1 344.8 411.2 345.1 392.7 345.6 374.2 346.1 366.3 346.5 374.2 347 392.7 347.2 411.2 348 416.4 348.7 413.7 349.7 419.1 348.7 419.1 349 414.9 349.2 405 349.8 395 350.3 390.8 350.7 395 351.2 405 351.4 414.9 351.8 418.3 352.3 419.1 349.5 419.1 350.5 413.8 351.2 416.5 352.1 392.7 352.6 374.2 353.1 366.3 353.5 374.2 354 392.7 354.2 411.2 354.6 417.5 355.1 419.1 354.2 419.1 355.2 413.7 355.9 416.4 356.8 394.1 357.3 376.6 357.8 369.1 358.2 376.6 358.7 394.1 358.9 411.6 359.3 417.6 359.8 419.1 360.4 419.1 360.7 410.8 360.9 391.4 361.5 371.9 362 363.6 362.4 371.9 362.9 391.4 363.1 410.8 363.9 416.1 364.6 413 365.6 419.1 364.7 419.1 365 411.4 365.2 393.3 365.8 375.2 366.3 367.5 366.7 375.2 367.2 393.3 367.4 411.4 367.8 417.6 368.3 419.1 369.7 419.1 370 412 370.2 395.5 370.8 379 371.3 371.9 371.7 379 372.2 395.5 372.4 412 372.8 417.7 373.3 419.1 371.6 419.1 372.6 412.2 373.3 415.6 374.1 393.5 374.7 375.5 375.2 367.8 375.6 375.5 376.1 393.5 376.3 411.4 376.7 417.6 377.2 419.1 377.1 419.1 377.4 417 377.6 412.1 378.2 407.2 378.7 405.1 379.1 407.2 379.6 412.1 379.8 417 380.2 418.7 380.7 419.1 380.5 419.1 380.8 411.1 381.1 392.4 381.6 373.7 382.1 365.7 382.5 373.7 383 392.4 383.2 411.1 383.6 417.5 384.1 419.1 384.4 419.1 384.7 411.9 384.9 395 385.5 378.1 386 370.9 386.4 378.1 386.9 395 387.1 411.9 387.5 417.7 388 419.1 389 418.8 390 419 391 418.6 392 418.6 393 419.1 393.3 410.7 393.6 391.1 394.1 371.6 394.6 363.2 395 371.6 395.5 391.1 395.7 410.7 396.1 417.4 396.6 419.1 394.8 419.1 395.8 411.9 396.5 415.5 397.3 393.7 397.9 375.9 398.4 368.3 398.8 375.9 399.2 393.7 399.5 411.5 399.9 417.6 400.4 419.1 398.1 419.1 399.1 413.9 399.8 416.5 400.6 393.1 401.2 375 401.7 367.2 402.1 375 402.6 393.1 402.8 411.3 403.2 417.5 403.7 419.1 405.1 419.1 405.4 411.1 405.6 392.4 406.2 373.7 406.7 365.7 407.1 373.7 407.6 392.4 407.8 411.1 408.2 417.5 408.7 419.1 407 419.1 408 410 408.7 414.6 409.6 397.1 410.1 381.6 410.6 375 411 381.6 411.5 397.1 411.7 412.5 412.1 417.8 412.6 419.1 413.9 419.1 414.2 411.4 414.4 393.5 415 375.5 415.5 367.8 415.9 375.5 416.4 393.5 416.6 411.4 417 417.6 417.5 419.1 416.3 419.1 417.3 413.4 418 416.3 418.8 392.4 419.4 373.7 419.9 365.7 420.2 373.7 420.8 392.4 421 411.1 421.4 417.5 421.9 419.1 422.9 418.5 424.2 419.1 424.5 411.7 424.8 394.5 425.3 377.3 425.8 369.9 426.2 377.3 426.7 394.5 426.9 411.7 427.3 417.6 427.8 419.1 427.6 419.1 428.6 410.8 429.3 415 430.1 393.3 430.7 375.2 431.2 367.5 431.6 375.2 432.1 393.3 432.3 411.4 432.7 417.6 433.2 419.1 434.3 419.1 434.6 411.6 434.8 394.1 435.4 376.6 435.9 369.1 436.2 376.6 436.8 394.1 437 411.6 437.4 417.6 437.9 419.1 438.6 419.1 438.9 410.9 439.1 391.6 439.7 372.4 440.2 364.1 440.6 372.4 441.1 391.6 441.3 410.9 441.7 417.5 442.2 419.1 441.6 419.1 442.6 410.1 443.3 414.6 444.1 390.9 444.7 371.1 445.2 362.6 445.6 371.1 446.1 390.9 446.3 410.6 446.7 417.4 447.2 419.1 448.2 418.5 449.2 419 449.8 419.1 450.1 411.1 450.3 392.4 450.9 373.7 451.4 365.7 451.8 373.7 452.2 392.4 452.5 411.1 452.9 417.5 453.4 419.1 454.9 419.1 455.2 411.9 455.4 395.2 456 378.6 456.5 371.4 456.9 378.6 457.4 395.2 457.6 411.9 458.4 415.8 459.1 412.4 460.1 419.1 459.6 419.1 459.9 410.1 460.1 389.1 460.7 368 461.2 359 461.6 368 462.1 389.1 462.3 410.1 463.1 413.1 463.8 407.1 464.8 419.1 465.8 419.1 466.8 418.9 468 419.1 468.3 412.3 468.6 396.4 469.1 380.5 469.6 373.7 470 380.5 470.5 396.4 470.7 412.3 471.1 417.7 471.6 419.1 470.8 419.1 471.1 410.4 471.3 390.2 471.9 370 472.4 361.3 472.8 370 473.2 390.2 473.5 410.4 474.3 415.2 475 411.3 476 419.1 474.6 419.1 474.9 411.7 475.1 394.5 475.7 377.3 476.2 369.9 476.6 377.3 477.1 394.5 477.3 411.7 477.7 417.6 478.2 419.1 479.2 418.9 479.8 419.1 480.1 411.3 480.3 393.1 480.9 375 481.4 367.2 481.8 375 482.2 393.1 482.5 411.3 483.3 415.4 484 411.8 485 419.1 484 419.1 484.3 411.8 484.6 394.7 485.1 377.6 485.6 370.3 486 377.6 486.5 394.7 486.7 411.8 487.1 417.6 487.6 419.1 488.9 419.1 489.2 411.5 489.4 393.7 490 375.9 490.5 368.3 490.9 375.9 491.4 393.7 491.6 411.5 492 417.6 492.5 419.1 492.8 419.1 493.1 410.3 493.3 389.8 493.9 369.3 494.4 360.5 494.8 369.3 495.2 389.8 495.5 410.3 495.9 417.3 496.4 419.1 497.9 419.1 498.2 410.7 498.4 391.1 499 371.6 499.5 363.2 499.9 371.6 500.4 391.1 500.6 410.7 501.4 415 502.1 410.8 503.1 419.1 504.1 418.8 504.9 419.1 505.2 413.2 505.4 399.6 506 385.9 506.5 380 506.9 385.9 507.4 399.6 507.6 413.2 508 417.9 508.5 419.1 505.3 419.1 506.3 409.5 507 414.3 507.8 399.9 508.4 386.5 508.9 380.7 509.2 386.5 509.8 399.9 510 413.3 510.4 417.9 510.9 419.1L511.2 419.1Z" fill="#bdbde9" stroke="none"/>
<path d="M53.4 357.9 53.5 413.1 54.6 418.1 55.6 418.6 56.9 419.1 57.2 411.6 57.5 394.2 58 376.9 58.5 369.4 58.9 376.9 59.4 394.2 59.6 411.6 60 417.6 60.5 419.1 61.6 419.1 61.9 411.1 62.2 392.4 62.7 373.7 63.2 365.7 63.6 373.7 64 392.4 64.3 411.1 64.7 417.5 65.2 419.1 66.2 419 67.2 418.5 67.8 419.1 68.1 411.3 68.4 393.1 68.9 375 69.4 367.2 69.8 375 70.2 393.1 70.5 411.3 70.9 417.5 71.4 419.1 70 419.1 71 412.6 71.7 415.8 72.5 389.8 73.1 369.3 73.6 360.5 73.9 369.3 74.4 389.8 74.7 410.3 75.1 417.3 75.6 419.1 76 419.1 76.3 417.2 76.5 412.9 77.1 408.6 77.6 406.7 77.9 408.6 78.4 412.9 78.7 417.2 79.1 418.7 79.6 419.1 79.9 419.1 80.2 411.8 80.5 394.7 81 377.6 81.5 370.3 81.8 377.6 82.3 394.7 82.6 411.8 83.4 416 84.1 412.9 85.1 419.1 84.1 419.1 84.4 412 84.7 395.5 85.2 379 85.7 371.9 86 379 86.5 395.5 86.8 412 87.2 417.7 87.7 419.1 88 419.1 88.3 411.6 88.5 394.2 89.1 376.9 89.6 369.4 89.9 376.9 90.4 394.2 90.7 411.6 91.5 413.7 92.2 408.3 93.2 419.1 91 419.1 92 411 92.7 415.1 93.5 389.8 94.1 369.3 94.6 360.5 94.9 369.3 95.4 389.8 95.7 410.3 96.1 417.3 96.6 419.1 97.6 419.1 98.6 413.2 99.3 416.1 100.2 390.6 100.7 370.7 101.2 362.1 101.5 370.7 102 390.6 102.3 410.6 102.7 417.4 103.2 419.1 104.6 419.1 104.9 410.9 105.2 391.6 105.7 372.4 106.2 364.1 106.5 372.4 107 391.6 107.3 410.9 107.7 417.5 108.2 419.1 109.2 418.5 110.2 418.6 111.3 419.1 111.6 411.4 111.9 393.5 112.4 375.5 112.9 367.8 113.2 375.5 113.8 393.5 114 411.4 114.8 415.8 115.5 412.5 116.5 419.1 114.9 419.1 115.2 416.5 115.5 410.6 116 404.6 116.5 402 116.8 404.6 117.3 410.6 117.6 416.5 118 418.6 118.5 419.1 115.5 419.1 116.5 408.4 117.2 413.8 118 396.8 118.6 381.2 119.1 374.5 119.4 381.2 119.9 396.8 120.2 412.4 120.6 417.8 121.1 419.1 119.8 419.1 120.8 412.6 121.5 415.8 122.4 396.1 122.9 379.9 123.4 373 123.8 379.9 124.2 396.1 124.5 412.2 124.9 417.7 125.4 419.1 124.1 419.1 125.1 408 125.8 413.5 126.7 393.5 127.2 375.5 127.7 367.8 128.1 375.5 128.6 393.5 128.8 411.4 129.2 417.6 129.7 419.1 128.1 419.1 129.1 412 129.8 415.5 130.6 391.8 131.2 372.6 131.7 364.4 132 372.6 132.5 391.8 132.8 410.9 133.2 417.5 133.7 419.1 134.3 419.1 134.6 410.6 134.8 390.6 135.4 370.7 135.9 362.1 136.2 370.7 136.8 390.6 137 410.6 137.4 417.4 137.9 419.1 138.2 419.1 138.5 416.8 138.8 411.6 139.3 406.3 139.8 404 140.2 406.3 140.7 411.6 140.9 416.8 141.3 418.6 141.8 419.1 140.2 419.1 140.5 412.3 140.8 396.6 141.3 380.8 141.8 374 142.2 380.8 142.7 396.6 142.9 412.3 143.3 417.7 143.8 419.1 143.9 419.1 144.2 411.4 144.4 393.5 145 375.5 145.5 367.8 145.8 375.5 146.3 393.5 146.6 411.4 147 417.6 147.5 419.1 147 419.1 147.3 417.2 147.5 412.9 148.1 408.6 148.6 406.7 148.9 408.6 149.4 412.9 149.7 417.2 150.1 418.7 150.6 419.1 151.6 418.6 152.6 418.5 153.6 418.7 154.6 418.9 155.2 419.1 155.5 411.9 155.8 395 156.3 378.1 156.8 370.9 157.2 378.1 157.7 395 157.9 411.9 158.7 413.3 159.4 407.4 160.4 419.1 156.6 419.1 157.6 409 158.3 414.1 159.1 390.4 159.7 370.2 160.2 361.6 160.5 370.2 161 390.4 161.3 410.5 161.7 417.4 162.2 419.1 160.2 419.1 161.2 411.6 161.9 415.4 162.8 392.1 163.3 373.3 163.8 365.2 164.2 373.3 164.7 392.1 164.9 411 165.3 417.5 165.8 419.1 166.9 419.1 167.2 411.4 167.4 393.5 168 375.5 168.5 367.8 168.8 375.5 169.3 393.5 169.6 411.4 170 417.6 170.5 419.1 171.2 419.1 171.5 411.4 171.8 393.3 172.3 375.2 172.8 367.5 173.2 375.2 173.7 393.3 173.9 411.4 174.3 417.6 174.8 419.1 175.9 419.1 176.2 412.2 176.4 396.1 177 379.9 177.5 373 177.8 379.9 178.3 396.1 178.6 412.2 179 417.7 179.5 419.1 180.4 419.1 180.7 411 180.9 392.1 181.5 373.3 182 365.2 182.3 373.3 182.8 392.1 183.1 411 183.5 417.5 184 419.1 183.5 419.1 184.5 413.9 185.2 416.5 186 393.7 186.6 375.9 187.1 368.3 187.4 375.9 187.9 393.7 188.2 411.5 188.6 417.6 189.1 419.1 190.2 419.1 190.5 411.6 190.8 394 191.3 376.3 191.8 368.8 192.2 376.3 192.7 394 192.9 411.6 193.7 414.5 194.4 409.9 195.4 419.1 192.8 419.1 193.8 412 194.5 415.6 195.3 396.4 195.9 380.5 196.4 373.7 196.8 380.5 197.2 396.4 197.5 412.3 197.9 417.7 198.4 419.1 196.6 419.1 197.6 409.7 198.3 414.4 199.1 394.7 199.7 377.6 200.2 370.3 200.5 377.6 201 394.7 201.3 411.8 201.7 417.6 202.2 419.1 201 419.1 201.3 417.6 201.5 414.1 202.1 410.5 202.6 409 202.9 410.5 203.4 414.1 203.7 417.6 204.1 418.8 204.6 419.1 204.9 419.1 205.2 410.6 205.4 390.9 206 371.1 206.5 362.6 206.8 371.1 207.3 390.9 207.6 410.6 208.4 414.9 209.1 410.8 210.1 419.1 211.1 418.5 212.1 418.7 213.6 419.1 213.9 411.1 214.1 392.4 214.7 373.7 215.2 365.7 215.5 373.7 216 392.4 216.3 411.1 216.7 417.5 217.2 419.1 217 419.1 217.3 411.8 217.5 394.7 218.1 377.6 218.6 370.3 218.9 377.6 219.4 394.7 219.7 411.8 220.1 417.6 220.6 419.1 221.2 419.1 221.5 411.3 221.8 393.1 222.3 375 222.8 367.2 223.2 375 223.7 393.1 223.9 411.3 224.7 413.7 225.4 408.3 226.4 419.1 222.5 419.1 223.5 412.3 224.2 415.7 225 396.2 225.6 380.3 226.1 373.4 226.4 380.3 226.9 396.2 227.2 412.2 227.6 417.7 228.1 419.1 229.1 419.1 229.4 411.1 229.6 392.4 230.2 373.7 230.7 365.7 231 373.7 231.5 392.4 231.8 411.1 232.6 414.2 233.3 409.3 234.3 419.1 233.3 419.1 233.6 411.3 233.8 393 234.4 374.6 234.9 366.8 235.2 374.6 235.8 393 236 411.3 236.4 417.5 236.9 419.1 237.9 418.6 238.8 419.1 239.1 411.1 239.3 392.4 239.9 373.7 240.4 365.7 240.8 373.7 241.2 392.4 241.5 411.1 241.9 417.5 242.4 419.1 243.4 418.8 244.4 418.6 245 419.1 245.3 411.5 245.5 393.7 246.1 375.9 246.6 368.3 246.9 375.9 247.4 393.7 247.7 411.5 248.5 416.3 249.2 413.5 250.2 419.1 248.9 419.1 249.2 411.5 249.4 393.7 250 375.9 250.5 368.3 250.8 375.9 251.3 393.7 251.6 411.5 252 417.6 252.5 419.1 254 419.1 254.3 411.9 254.5 395 255.1 378.1 255.6 370.9 255.9 378.1 256.4 395 256.7 411.9 257.1 417.7 257.6 419.1 258.6 418.9 259.7 419.1 260 411.6 260.2 394.2 260.8 376.9 261.3 369.4 261.7 376.9 262.2 394.2 262.4 411.6 263.2 414 263.9 409 264.9 419.1 263.3 419.1 263.6 410.2 263.8 389.5 264.4 368.7 264.9 359.8 265.2 368.7 265.8 389.5 266 410.2 266.8 416.5 267.5 414 268.5 419.1 269.1 419.1 269.4 411.6 269.6 394 270.2 376.3 270.7 368.8 271.1 376.3 271.6 394 271.8 411.6 272.2 417.6 272.7 419.1 274 419.1 274.3 411.1 274.6 392.4 275.1 373.7 275.6 365.7 276 373.7 276.5 392.4 276.7 411.1 277.5 415.2 278.2 411.2 279.2 419.1 278.5 419.1 278.8 411.4 279.1 393.3 279.6 375.2 280.1 367.5 280.5 375.2 281 393.3 281.2 411.4 282 414.5 282.7 409.8 283.7 419.1 284.6 419.1 284.9 410.1 285.1 389.1 285.7 368 286.2 359 286.6 368 287.1 389.1 287.3 410.1 287.7 417.3 288.2 419.1 289.7 419.1 290 412 290.2 395.5 290.8 379 291.3 371.9 291.7 379 292.2 395.5 292.4 412 292.8 417.7 293.3 419.1 293.6 419.1 293.9 411.4 294.1 393.5 294.7 375.5 295.2 367.8 295.6 375.5 296.1 393.5 296.3 411.4 297.1 413.8 297.8 408.5 298.8 419.1 297.8 419.1 298.1 411.5 298.3 393.7 298.9 375.9 299.4 368.3 299.8 375.9 300.2 393.7 300.5 411.5 301.3 414.9 302 410.8 303 419.1 304 419.1 304.3 411.6 304.6 394.2 305.1 376.9 305.6 369.4 306 376.9 306.5 394.2 306.7 411.6 307.1 417.6 307.6 419.1 308.6 419 309.6 419 311.1 419.1 311.4 411.3 311.6 393.1 312.2 375 312.7 367.2 313.1 375 313.6 393.1 313.8 411.3 314.2 417.5 314.7 419.1 312.1 419.1 313.1 407.8 313.8 413.5 314.6 393.7 315.2 375.9 315.7 368.3 316.1 375.9 316.6 393.7 316.8 411.5 317.2 417.6 317.7 419.1 318.7 418.9 319.7 418.8 320.3 419.1 321.3 413.2 322 416.1 322.8 394.7 323.4 377.6 323.9 370.3 324.2 377.6 324.8 394.7 325 411.8 325.4 417.6 325.9 419.1 325.4 419.1 325.7 410.8 325.9 391.4 326.5 371.9 327 363.6 327.4 371.9 327.9 391.4 328.1 410.8 328.5 417.4 329 419.1 330.5 419.1 330.8 411.6 331.1 394 331.6 376.3 332.1 368.8 332.5 376.3 333 394 333.2 411.6 334 416.1 334.7 413 335.7 419.1 334.3 419.1 335.3 409.6 336 414.4 336.8 394.5 337.4 377.3 337.9 369.9 338.2 377.3 338.8 394.5 339 411.7 339.4 417.6 339.9 419.1 340.9 419.1 341.2 412 341.4 395.5 342 379 342.5 371.9 342.9 379 343.4 395.5 343.6 412 344 417.7 344.5 419.1 344.5 419.1 344.8 411.2 345.1 392.7 345.6 374.2 346.1 366.3 346.5 374.2 347 392.7 347.2 411.2 348 416.4 348.7 413.7 349.7 419.1 348.7 419.1 349 414.9 349.2 405 349.8 395 350.3 390.8 350.7 395 351.2 405 351.4 414.9 351.8 418.3 352.3 419.1 349.5 419.1 350.5 413.8 351.2 416.5 352.1 392.7 352.6 374.2 353.1 366.3 353.5 374.2 354 392.7 354.2 411.2 354.6 417.5 355.1 419.1 354.2 419.1 355.2 413.7 355.9 416.4 356.8 394.1 357.3 376.6 357.8 369.1 358.2 376.6 358.7 394.1 358.9 411.6 359.3 417.6 359.8 419.1 360.4 419.1 360.7 410.8 360.9 391.4 361.5 371.9 362 363.6 362.4 371.9 362.9 391.4 363.1 410.8 363.9 416.1 364.6 413 365.6 419.1 364.7 419.1 365 411.4 365.2 393.3 365.8 375.2 366.3 367.5 366.7 375.2 367.2 393.3 367.4 411.4 367.8 417.6 368.3 419.1 369.7 419.1 370 412 370.2 395.5 370.8 379 371.3 371.9 371.7 379 372.2 395.5 372.4 412 372.8 417.7 373.3 419.1 371.6 419.1 372.6 412.2 373.3 415.6 374.1 393.5 374.7 375.5 375.2 367.8 375.6 375.5 376.1 393.5 376.3 411.4 376.7 417.6 377.2 419.1 377.1 419.1 377.4 417 377.6 412.1 378.2 407.2 378.7 405.1 379.1 407.2 379.6 412.1 379.8 417 380.2 418.7 380.7 419.1 380.5 419.1 380.8 411.1 381.1 392.4 381.6 373.7 382.1 365.7 382.5 373.7 383 392.4 383.2 411.1 383.6 417.5 384.1 419.1 384.4 419.1 384.7 411.9 384.9 395 385.5 378.1 386 370.9 386.4 378.1 386.9 395 387.1 411.9 387.5 417.7 388 419.1 389 418.8 390 419 391 418.6 392 418.6 393 419.1 393.3 410.7 393.6 391.1 394.1 371.6 394.6 363.2 395 371.6 395.5 391.1 395.7 410.7 396.1 417.4 396.6 419.1 394.8 419.1 395.8 411.9 396.5 415.5 397.3 393.7 397.9 375.9 398.4 368.3 398.8 375.9 399.2 393.7 399.5 411.5 399.9 417.6 400.4 419.1 398.1 419.1 399.1 413.9 399.8 416.5 400.6 393.1 401.2 375 401.7 367.2 402.1 375 402.6 393.1 402.8 411.3 403.2 417.5 403.7 419.1 405.1 419.1 405.4 411.1 405.6 392.4 406.2 373.7 406.7 365.7 407.1 373.7 407.6 392.4 407.8 411.1 408.2 417.5 408.7 419.1 407 419.1 408 410 408.7 414.6 409.6 397.1 410.1 381.6 410.6 375 411 381.6 411.5 397.1 411.7 412.5 412.1 417.8 412.6 419.1 413.9 419.1 414.2 411.4 414.4 393.5 415 375.5 415.5 367.8 415.9 375.5 416.4 393.5 416.6 411.4 417 417.6 417.5 419.1 416.3 419.1 417.3 413.4 418 416.3 418.8 392.4 419.4 373.7 419.9 365.7 420.2 373.7 420.8 392.4 421 411.1 421.4 417.5 421.9 419.1 422.9 418.5 424.2 419.1 424.5 411.7 424.8 394.5 425.3 377.3 425.8 369.9 426.2 377.3 426.7 394.5 426.9 411.7 427.3 417.6 427.8 419.1 427.6 419.1 428.6 410.8 429.3 415 430.1 393.3 430.7 375.2 431.2 367.5 431.6 375.2 432.1 393.3 432.3 411.4 432.7 417.6 433.2 419.1 434.3 419.1 434.6 411.6 434.8 394.1 435.4 376.6 435.9 369.1 436.2 376.6 436.8 394.1 437 411.6 437.4 417.6 437.9 419.1 438.6 419.1 438.9 410.9 439.1 391.6 439.7 372.4 440.2 364.1 440.6 372.4 441.1 391.6 441.3 410.9 441.7 417.5 442.2 419.1 441.6 419.1 442.6 410.1 443.3 414.6 444.1 390.9 444.7 371.1 445.2 362.6 445.6 371.1 446.1 390.9 446.3 410.6 446.7 417.4 447.2 419.1 448.2 418.5 449.2 419 449.8 419.1 450.1 411.1 450.3 392.4 450.9 373.7 451.4 365.7 451.8 373.7 452.2 392.4 452.5 411.1 452.9 417.5 453.4 419.1 454.9 419.1 455.2 411.9 455.4 395.2 456 378.6 456.5 371.4 456.9 378.6 457.4 395.2 457.6 411.9 458.4 415.8 459.1 412.4 460.1 419.1 459.6 419.1 459.9 410.1 460.1 389.1 460.7 368 461.2 359 461.6 368 462.1 389.1 462.3 410.1 463.1 413.1 463.8 407.1 464.8 419.1 465.8 419.1 466.8 418.9 468 419.1 468.3 412.3 468.6 396.4 469.1 380.5 469.6 373.7 470 380.5 470.5 396.4 470.7 412.3 471.1 417.7 471.6 419.1 470.8 419.1 471.1 410.4 471.3 390.2 471.9 370 472.4 361.3 472.8 370 473.2 390.2 473.5 410.4 474.3 415.2 475 411.3 476 419.1 474.6 419.1 474.9 411.7 475.1 394.5 475.7 377.3 476.2 369.9 476.6 377.3 477.1 394.5 477.3 411.7 477.7 417.6 478.2 419.1 479.2 418.9 479.8 419.1 480.1 411.3 480.3 393.1 480.9 375 481.4 367.2 481.8 375 482.2 393.1 482.5 411.3 483.3 415.4 484 411.8 485 419.1 484 419.1 484.3 411.8 484.6 394.7 485.1 377.6 485.6 370.3 486 377.6 486.5 394.7 486.7 411.8 487.1 417.6 487.6 419.1 488.9 419.1 489.2 411.5 489.4 393.7 490 375.9 490.5 368.3 490.9 375.9 491.4 393.7 491.6 411.5 492 417.6 492.5 419.1 492.8 419.1 493.1 410.3 493.3 389.8 493.9 369.3 494.4 360.5 494.8 369.3 495.2 389.8 495.5 410.3 495.9 417.3 496.4 419.1 497.9 419.1 498.2 410.7 498.4 391.1 499 371.6 499.5 363.2 499.9 371.6 500.4 391.1 500.6 410.7 501.4 415 502.1 410.8 503.1 419.1 504.1 418.8 504.9 419.1 505.2 413.2 505.4 399.6 506 385.9 506.5 380 506.9 385.9 507.4 399.6 507.6 413.2 508 417.9 508.5 419.1 505.3 419.1 506.3 409.5 507 414.3 507.8 399.9 508.4 386.5 508.9 380.7 509.2 386.5 509.8 399.9 510 413.3 510.4 417.9 510.9 419.1" fill="none" stroke="#4a4ad8" stroke-width="0.7" stroke-linejoin="round"/>
<path d="M150.3 418.6L153.3 406.6L156.3 418.6" fill="none" stroke="#5050d8" stroke-width="0.8"/>
<path d="M209.1 418.6L212.1 406.6L215.1 418.6" fill="none" stroke="#5050d8" stroke-width="0.8"/>
<path d="M318.1 418.6L321.1 406.6L324.1 418.6" fill="none" stroke="#5050d8" stroke-width="0.8"/>
<path d="M388.6 418.6L391.6 406.6L394.6 418.6" fill="none" stroke="#5050d8" stroke-width="0.8"/>
<path d="M463.1 418.6L466.1 406.6L469.1 418.6" fill="none" stroke="#5050d8" stroke-width="0.8"/>
<path d="M419.2 435.8H510.7" stroke="#222" stroke-width="1.2"/>
<text x="448.8" y="449.4" font-family="Liberation Sans, sans-serif" font-weight="bold" font-size="12" fill="#111" textLength="31.7" lengthAdjust="spacingAndGlyphs">1 min</text>
<text x="0.6" y="12.6" font-family="Liberation Sans, sans-serif" font-weight="bold" font-size="22" fill="#000" textLength="11.3" lengthAdjust="spacingAndGlyphs">a</text>
<text x="0.5" y="243.6" font-family="Liberation Sans, sans-serif" font-weight="bold" font-size="22" fill="#000">b</text>
<text x="582.5" y="15.6" font-family="Liberation Sans, sans-serif" font-weight="bold" font-size="22" fill="#000">c</text>
<text x="583" y="246.2" font-family="Liberation Sans, sans-serif" font-weight="bold" font-size="22" fill="#000">d</text>
<text x="52" y="31.2" font-family="Liberation Sans, sans-serif" font-weight="bold" font-size="14.8" fill="#000" textLength="54.4" lengthAdjust="spacingAndGlyphs">Control</text>
<text x="52.3" y="256.7" font-family="Liberation Sans, sans-serif" font-weight="bold" font-size="14" fill="#000" textLength="101.7" lengthAdjust="spacingAndGlyphs">D-Ile (1.5 mM)</text>
<text x="0" y="0" font-family="Liberation Sans, sans-serif" font-weight="bold" font-size="9" text-anchor="middle" fill="#000" transform="translate(27.1 66.5) rotate(-90)" textLength="42.7" lengthAdjust="spacingAndGlyphs">PNA [a.u.]</text>
<text x="0" y="0" font-family="Liberation Sans, sans-serif" font-weight="bold" font-size="9" text-anchor="middle" fill="#000" transform="translate(27.4 167.7) rotate(-90)" textLength="59.4" lengthAdjust="spacingAndGlyphs">int PNA [a.u.]</text>
<text x="0" y="0" font-family="Liberation Sans, sans-serif" font-weight="bold" font-size="9" text-anchor="middle" fill="#000" transform="translate(27.1 296.5) rotate(-90)" textLength="43.4" lengthAdjust="spacingAndGlyphs">PNA [a.u.]</text>
<text x="0" y="0" font-family="Liberation Sans, sans-serif" font-weight="bold" font-size="9" text-anchor="middle" fill="#000" transform="translate(27.0 397.5) rotate(-90)" textLength="59.8" lengthAdjust="spacingAndGlyphs">int PNA [a.u.]</text>
<text x="640.8" y="43.2" font-family="Liberation Sans, sans-serif" font-weight="bold" font-size="12.2" fill="#000" textLength="107.8" lengthAdjust="spacingAndGlyphs">int PNA amplitude</text>
<path d="M620.4 57.0V180.0H744" fill="none" stroke="#000" stroke-width="1.3"/>
<path d="M617 85.7H620.4" stroke="#000" stroke-width="1.2"/>
<text x="615.9" y="89.1" font-family="Liberation Sans, sans-serif" font-weight="bold" font-size="9.6" text-anchor="end" fill="#000">1.0</text>
<path d="M617 132.9H620.4" stroke="#000" stroke-width="1.2"/>
<text x="615.9" y="136.3" font-family="Liberation Sans, sans-serif" font-weight="bold" font-size="9.6" text-anchor="end" fill="#000">0.5</text>
<path d="M617 180.1H620.4" stroke="#000" stroke-width="1.2"/>
<text x="615.9" y="183.5" font-family="Liberation Sans, sans-serif" font-weight="bold" font-size="9.6" text-anchor="end" fill="#000">0.0</text>
<path d="M640.9 180.0V183.7" stroke="#000" stroke-width="1.2"/>
<path d="M681.9 180.0V183.7" stroke="#000" stroke-width="1.2"/>
<path d="M722.6 180.0V183.7" stroke="#000" stroke-width="1.2"/>
<rect x="626.8" y="85.1" width="28.6" height="94.9" fill="#000"/>
<rect x="667.5" y="97.1" width="28.7" height="82.9" fill="#9d9da2"/>
<rect x="708.3" y="102.2" width="28.7" height="77.8" fill="#9d9da2"/>
<path d="M681.9 97.1V89.1M675.2 89.1H688.6" stroke="#000" stroke-width="1.6" fill="none"/>
<path d="M722.6 102.2V90.8M715.9 90.8H729.3" stroke="#000" stroke-width="1.6" fill="none"/>
<text x="0" y="0" font-family="Liberation Sans, sans-serif" font-weight="bold" font-size="10.3" text-anchor="middle" fill="#000" transform="translate(599.0 113.6) rotate(-90)" textLength="95.6" lengthAdjust="spacingAndGlyphs">Relative amplitude</text>
<path d="M639.8 64.8V58.5H723.7V64.8M639.8 79.0V72.5H683.5V79.0" fill="none" stroke="#000" stroke-width="1.2"/>
<path d="M680.00 53.60L680.00 50.80M680.00 53.60L682.66 52.73M680.00 53.60L681.65 55.87M680.00 53.60L678.35 55.87M680.00 53.60L677.34 52.73" stroke="#000" stroke-width="1.3" stroke-linecap="round" fill="none"/>
<path d="M686.60 53.60L686.60 50.80M686.60 53.60L689.26 52.73M686.60 53.60L688.25 55.87M686.60 53.60L684.95 55.87M686.60 53.60L683.94 52.73" stroke="#000" stroke-width="1.3" stroke-linecap="round" fill="none"/>
<path d="M662.50 68.50L662.50 65.70M662.50 68.50L665.16 67.63M662.50 68.50L664.15 70.77M662.50 68.50L660.85 70.77M662.50 68.50L659.84 67.63" stroke="#000" stroke-width="1.3" stroke-linecap="round" fill="none"/>
<text x="0" y="3.3" font-family="Liberation Sans, sans-serif" font-weight="bold" font-size="9.7" text-anchor="middle" fill="#000" transform="translate(630.4 200.0) rotate(-45)">Control</text>
<text x="0" y="3.3" font-family="Liberation Sans, sans-serif" font-weight="bold" font-size="9.7" text-anchor="middle" fill="#000" transform="translate(665.9 197.6) rotate(-45)">D-ILE</text>
<text x="0" y="3.3" font-family="Liberation Sans, sans-serif" font-weight="bold" font-size="9.7" text-anchor="middle" fill="#000" transform="translate(675.7 207.4) rotate(-45)">(20min)</text>
<text x="0" y="3.3" font-family="Liberation Sans, sans-serif" font-weight="bold" font-size="9.7" text-anchor="middle" fill="#000" transform="translate(706.9 197.6) rotate(-45)">D-ILE</text>
<text x="0" y="3.3" font-family="Liberation Sans, sans-serif" font-weight="bold" font-size="9.7" text-anchor="middle" fill="#000" transform="translate(716.7 207.4) rotate(-45)">(30min)</text>
<text x="637.8" y="268.1" font-family="Liberation Sans, sans-serif" font-weight="bold" font-size="12.2" fill="#000" textLength="86.9" lengthAdjust="spacingAndGlyphs">PNA frequency</text>
<path d="M620.4 282.2V404.3H743" fill="none" stroke="#000" stroke-width="1.3"/>
<path d="M617 282.4H620.4" stroke="#000" stroke-width="1.2"/>
<text x="615.9" y="285.8" font-family="Liberation Sans, sans-serif" font-weight="bold" font-size="9.6" text-anchor="end" fill="#000">60</text>
<path d="M617 323.7H620.4" stroke="#000" stroke-width="1.2"/>
<text x="615.9" y="327.1" font-family="Liberation Sans, sans-serif" font-weight="bold" font-size="9.6" text-anchor="end" fill="#000">40</text>
<path d="M617 364.2H620.4" stroke="#000" stroke-width="1.2"/>
<text x="615.9" y="367.6" font-family="Liberation Sans, sans-serif" font-weight="bold" font-size="9.6" text-anchor="end" fill="#000">20</text>
<path d="M617 404.3H620.4" stroke="#000" stroke-width="1.2"/>
<text x="615.9" y="407.7" font-family="Liberation Sans, sans-serif" font-weight="bold" font-size="9.6" text-anchor="end" fill="#000">0</text>
<path d="M640.3 404.3V408.0" stroke="#000" stroke-width="1.2"/>
<path d="M681.3 404.3V408.0" stroke="#000" stroke-width="1.2"/>
<path d="M722.0 404.3V408.0" stroke="#000" stroke-width="1.2"/>
<rect x="626.5" y="354.3" width="28.5" height="50.0" fill="#000"/>
<rect x="666.8" y="327.7" width="28.7" height="76.6" fill="#9d9da2"/>
<rect x="707.4" y="321.8" width="28.6" height="82.5" fill="#7f7f7f"/>
<path d="M640.7 354.3V346.4M634.0 346.4H647.4" stroke="#000" stroke-width="1.6" fill="none"/>
<path d="M681.1 327.7V312.2M674.4 312.2H687.8" stroke="#000" stroke-width="1.6" fill="none"/>
<path d="M721.7 321.8V307.6M715.0 307.6H728.4" stroke="#000" stroke-width="1.6" fill="none"/>
<text x="0" y="0" font-family="Liberation Sans, sans-serif" font-weight="bold" font-size="10.3" text-anchor="middle" fill="#000" transform="translate(598.5 343.0) rotate(-90)" textLength="118" lengthAdjust="spacingAndGlyphs">Frequency (per minute)</text>
<path d="M639.8 290.8V284.5H723.7V290.8M639.8 305.0V298.5H683.5V305.0" fill="none" stroke="#000" stroke-width="1.2"/>
<path d="M680.00 279.60L680.00 276.80M680.00 279.60L682.66 278.73M680.00 279.60L681.65 281.87M680.00 279.60L678.35 281.87M680.00 279.60L677.34 278.73" stroke="#000" stroke-width="1.3" stroke-linecap="round" fill="none"/>
<path d="M686.60 279.60L686.60 276.80M686.60 279.60L689.26 278.73M686.60 279.60L688.25 281.87M686.60 279.60L684.95 281.87M686.60 279.60L683.94 278.73" stroke="#000" stroke-width="1.3" stroke-linecap="round" fill="none"/>
<path d="M662.50 294.50L662.50 291.70M662.50 294.50L665.16 293.63M662.50 294.50L664.15 296.77M662.50 294.50L660.85 296.77M662.50 294.50L659.84 293.63" stroke="#000" stroke-width="1.3" stroke-linecap="round" fill="none"/>
<text x="0" y="3.3" font-family="Liberation Sans, sans-serif" font-weight="bold" font-size="9.7" text-anchor="middle" fill="#000" transform="translate(629.8 424.3) rotate(-45)">Control</text>
<text x="0" y="3.3" font-family="Liberation Sans, sans-serif" font-weight="bold" font-size="9.7" text-anchor="middle" fill="#000" transform="translate(665.3 421.9) rotate(-45)">D-ILE</text>
<text x="0" y="3.3" font-family="Liberation Sans, sans-serif" font-weight="bold" font-size="9.7" text-anchor="middle" fill="#000" transform="translate(675.1 431.7) rotate(-45)">(20min)</text>
<text x="0" y="3.3" font-family="Liberation Sans, sans-serif" font-weight="bold" font-size="9.7" text-anchor="middle" fill="#000" transform="translate(706.3 421.9) rotate(-45)">D-ILE</text>
<text x="0" y="3.3" font-family="Liberation Sans, sans-serif" font-weight="bold" font-size="9.7" text-anchor="middle" fill="#000" transform="translate(716.1 431.7) rotate(-45)">(30min)</text>
</svg>
</body></html>
